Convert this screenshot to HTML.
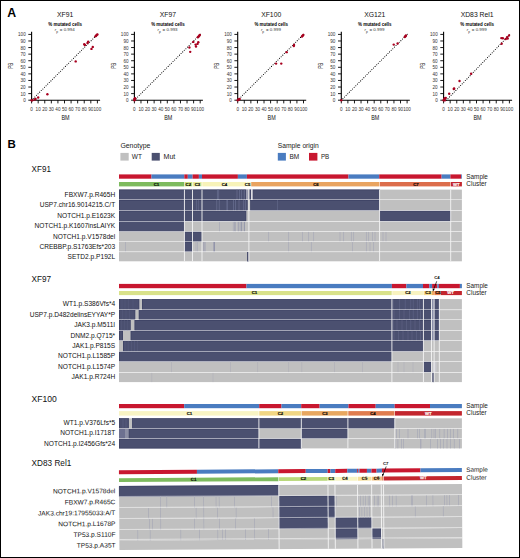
<!DOCTYPE html>
<html><head><meta charset="utf-8"><style>
html,body{margin:0;padding:0;background:#fff;}
body{width:520px;height:558px;overflow:hidden;position:relative;}
svg{position:absolute;left:0;top:0;font-family:"Liberation Sans", sans-serif;}
.frame{position:absolute;left:0;top:0;width:518px;height:556px;border:1px solid #000;}
</style></head><body>
<svg width="520" height="558" viewBox="0 0 520 558">
<text x="7.20" y="16.90" font-size="12.3" fill="#000" text-anchor="start" font-weight="bold">A</text>
<text x="65.10" y="17.30" font-size="6.8" fill="#111" text-anchor="middle" font-weight="normal">XF91</text>
<text x="65.10" y="25.70" font-size="4.5" fill="#000" text-anchor="middle" font-weight="bold" textLength="33.5" lengthAdjust="spacingAndGlyphs">% mutated cells</text>
<text x="54.80" y="30.60" font-size="4.4" fill="#333" text-anchor="start" font-weight="normal" font-style="italic">r</text>
<text x="56.20" y="33.20" font-size="3.3" fill="#333" text-anchor="start" font-weight="normal">p</text>
<text x="59.80" y="30.60" font-size="4.3" fill="#333" text-anchor="start" font-weight="normal" textLength="15" lengthAdjust="spacingAndGlyphs">= 0.994</text>
<line x1="31.60" y1="31.80" x2="31.60" y2="100.70" stroke="#000" stroke-width="1.1"/>
<line x1="31.10" y1="100.20" x2="100.10" y2="100.20" stroke="#000" stroke-width="1.1"/>
<line x1="28.30" y1="100.20" x2="31.60" y2="100.20" stroke="#000" stroke-width="0.9"/>
<text x="25.70" y="102.20" font-size="4.6" fill="#333" text-anchor="end" font-weight="normal">0</text>
<line x1="31.60" y1="100.20" x2="31.60" y2="103.40" stroke="#000" stroke-width="0.9"/>
<text x="31.60" y="110.60" font-size="4.6" fill="#333" text-anchor="middle" font-weight="normal">0</text>
<line x1="28.30" y1="93.62" x2="31.60" y2="93.62" stroke="#000" stroke-width="0.9"/>
<text x="25.70" y="95.62" font-size="4.6" fill="#333" text-anchor="end" font-weight="normal">10</text>
<line x1="38.18" y1="100.20" x2="38.18" y2="103.40" stroke="#000" stroke-width="0.9"/>
<text x="38.18" y="110.60" font-size="4.6" fill="#333" text-anchor="middle" font-weight="normal">10</text>
<line x1="28.30" y1="87.04" x2="31.60" y2="87.04" stroke="#000" stroke-width="0.9"/>
<text x="25.70" y="89.04" font-size="4.6" fill="#333" text-anchor="end" font-weight="normal">20</text>
<line x1="44.76" y1="100.20" x2="44.76" y2="103.40" stroke="#000" stroke-width="0.9"/>
<text x="44.76" y="110.60" font-size="4.6" fill="#333" text-anchor="middle" font-weight="normal">20</text>
<line x1="28.30" y1="80.46" x2="31.60" y2="80.46" stroke="#000" stroke-width="0.9"/>
<text x="25.70" y="82.46" font-size="4.6" fill="#333" text-anchor="end" font-weight="normal">30</text>
<line x1="51.34" y1="100.20" x2="51.34" y2="103.40" stroke="#000" stroke-width="0.9"/>
<text x="51.34" y="110.60" font-size="4.6" fill="#333" text-anchor="middle" font-weight="normal">30</text>
<line x1="28.30" y1="73.88" x2="31.60" y2="73.88" stroke="#000" stroke-width="0.9"/>
<text x="25.70" y="75.88" font-size="4.6" fill="#333" text-anchor="end" font-weight="normal">40</text>
<line x1="57.92" y1="100.20" x2="57.92" y2="103.40" stroke="#000" stroke-width="0.9"/>
<text x="57.92" y="110.60" font-size="4.6" fill="#333" text-anchor="middle" font-weight="normal">40</text>
<line x1="28.30" y1="67.30" x2="31.60" y2="67.30" stroke="#000" stroke-width="0.9"/>
<text x="25.70" y="69.30" font-size="4.6" fill="#333" text-anchor="end" font-weight="normal">50</text>
<line x1="64.50" y1="100.20" x2="64.50" y2="103.40" stroke="#000" stroke-width="0.9"/>
<text x="64.50" y="110.60" font-size="4.6" fill="#333" text-anchor="middle" font-weight="normal">50</text>
<line x1="28.30" y1="60.72" x2="31.60" y2="60.72" stroke="#000" stroke-width="0.9"/>
<text x="25.70" y="62.72" font-size="4.6" fill="#333" text-anchor="end" font-weight="normal">60</text>
<line x1="71.08" y1="100.20" x2="71.08" y2="103.40" stroke="#000" stroke-width="0.9"/>
<text x="71.08" y="110.60" font-size="4.6" fill="#333" text-anchor="middle" font-weight="normal">60</text>
<line x1="28.30" y1="54.14" x2="31.60" y2="54.14" stroke="#000" stroke-width="0.9"/>
<text x="25.70" y="56.14" font-size="4.6" fill="#333" text-anchor="end" font-weight="normal">70</text>
<line x1="77.66" y1="100.20" x2="77.66" y2="103.40" stroke="#000" stroke-width="0.9"/>
<text x="77.66" y="110.60" font-size="4.6" fill="#333" text-anchor="middle" font-weight="normal">70</text>
<line x1="28.30" y1="47.56" x2="31.60" y2="47.56" stroke="#000" stroke-width="0.9"/>
<text x="25.70" y="49.56" font-size="4.6" fill="#333" text-anchor="end" font-weight="normal">80</text>
<line x1="84.24" y1="100.20" x2="84.24" y2="103.40" stroke="#000" stroke-width="0.9"/>
<text x="84.24" y="110.60" font-size="4.6" fill="#333" text-anchor="middle" font-weight="normal">80</text>
<line x1="28.30" y1="40.98" x2="31.60" y2="40.98" stroke="#000" stroke-width="0.9"/>
<text x="25.70" y="42.98" font-size="4.6" fill="#333" text-anchor="end" font-weight="normal">90</text>
<line x1="90.82" y1="100.20" x2="90.82" y2="103.40" stroke="#000" stroke-width="0.9"/>
<text x="90.82" y="110.60" font-size="4.6" fill="#333" text-anchor="middle" font-weight="normal">90</text>
<line x1="28.30" y1="34.40" x2="31.60" y2="34.40" stroke="#000" stroke-width="0.9"/>
<text x="25.70" y="36.40" font-size="4.6" fill="#333" text-anchor="end" font-weight="normal">100</text>
<line x1="97.40" y1="100.20" x2="97.40" y2="103.40" stroke="#000" stroke-width="0.9"/>
<text x="97.40" y="110.60" font-size="4.6" fill="#333" text-anchor="middle" font-weight="normal">100</text>
<text x="65.50" y="120.20" font-size="6.6" fill="#111" text-anchor="middle" font-weight="normal" textLength="8.1" lengthAdjust="spacingAndGlyphs">BM</text>
<text x="0" y="0" font-size="6.6" fill="#111" text-anchor="middle" textLength="6.1" lengthAdjust="spacingAndGlyphs" transform="translate(10.50,65.80) rotate(-90)" dy="2.4">PB</text>
<path d="M31.60,100.20m-0.55,0a0.55,0.55 0 1,0 1.1,0a0.55,0.55 0 1,0 -1.1,0M33.21,98.59m-0.55,0a0.55,0.55 0 1,0 1.1,0a0.55,0.55 0 1,0 -1.1,0M34.82,96.98m-0.55,0a0.55,0.55 0 1,0 1.1,0a0.55,0.55 0 1,0 -1.1,0M36.43,95.37m-0.55,0a0.55,0.55 0 1,0 1.1,0a0.55,0.55 0 1,0 -1.1,0M38.04,93.76m-0.55,0a0.55,0.55 0 1,0 1.1,0a0.55,0.55 0 1,0 -1.1,0M39.65,92.15m-0.55,0a0.55,0.55 0 1,0 1.1,0a0.55,0.55 0 1,0 -1.1,0M41.26,90.54m-0.55,0a0.55,0.55 0 1,0 1.1,0a0.55,0.55 0 1,0 -1.1,0M42.87,88.93m-0.55,0a0.55,0.55 0 1,0 1.1,0a0.55,0.55 0 1,0 -1.1,0M44.48,87.32m-0.55,0a0.55,0.55 0 1,0 1.1,0a0.55,0.55 0 1,0 -1.1,0M46.09,85.71m-0.55,0a0.55,0.55 0 1,0 1.1,0a0.55,0.55 0 1,0 -1.1,0M47.70,84.10m-0.55,0a0.55,0.55 0 1,0 1.1,0a0.55,0.55 0 1,0 -1.1,0M49.31,82.49m-0.55,0a0.55,0.55 0 1,0 1.1,0a0.55,0.55 0 1,0 -1.1,0M50.92,80.88m-0.55,0a0.55,0.55 0 1,0 1.1,0a0.55,0.55 0 1,0 -1.1,0M52.53,79.27m-0.55,0a0.55,0.55 0 1,0 1.1,0a0.55,0.55 0 1,0 -1.1,0M54.14,77.66m-0.55,0a0.55,0.55 0 1,0 1.1,0a0.55,0.55 0 1,0 -1.1,0M55.75,76.05m-0.55,0a0.55,0.55 0 1,0 1.1,0a0.55,0.55 0 1,0 -1.1,0M57.36,74.44m-0.55,0a0.55,0.55 0 1,0 1.1,0a0.55,0.55 0 1,0 -1.1,0M58.97,72.83m-0.55,0a0.55,0.55 0 1,0 1.1,0a0.55,0.55 0 1,0 -1.1,0M60.58,71.22m-0.55,0a0.55,0.55 0 1,0 1.1,0a0.55,0.55 0 1,0 -1.1,0M62.19,69.61m-0.55,0a0.55,0.55 0 1,0 1.1,0a0.55,0.55 0 1,0 -1.1,0M63.80,68.00m-0.55,0a0.55,0.55 0 1,0 1.1,0a0.55,0.55 0 1,0 -1.1,0M65.40,66.40m-0.55,0a0.55,0.55 0 1,0 1.1,0a0.55,0.55 0 1,0 -1.1,0M67.01,64.79m-0.55,0a0.55,0.55 0 1,0 1.1,0a0.55,0.55 0 1,0 -1.1,0M68.62,63.18m-0.55,0a0.55,0.55 0 1,0 1.1,0a0.55,0.55 0 1,0 -1.1,0M70.23,61.57m-0.55,0a0.55,0.55 0 1,0 1.1,0a0.55,0.55 0 1,0 -1.1,0M71.84,59.96m-0.55,0a0.55,0.55 0 1,0 1.1,0a0.55,0.55 0 1,0 -1.1,0M73.45,58.35m-0.55,0a0.55,0.55 0 1,0 1.1,0a0.55,0.55 0 1,0 -1.1,0M75.06,56.74m-0.55,0a0.55,0.55 0 1,0 1.1,0a0.55,0.55 0 1,0 -1.1,0M76.67,55.13m-0.55,0a0.55,0.55 0 1,0 1.1,0a0.55,0.55 0 1,0 -1.1,0M78.28,53.52m-0.55,0a0.55,0.55 0 1,0 1.1,0a0.55,0.55 0 1,0 -1.1,0M79.89,51.91m-0.55,0a0.55,0.55 0 1,0 1.1,0a0.55,0.55 0 1,0 -1.1,0M81.50,50.30m-0.55,0a0.55,0.55 0 1,0 1.1,0a0.55,0.55 0 1,0 -1.1,0M83.11,48.69m-0.55,0a0.55,0.55 0 1,0 1.1,0a0.55,0.55 0 1,0 -1.1,0M84.72,47.08m-0.55,0a0.55,0.55 0 1,0 1.1,0a0.55,0.55 0 1,0 -1.1,0M86.33,45.47m-0.55,0a0.55,0.55 0 1,0 1.1,0a0.55,0.55 0 1,0 -1.1,0M87.94,43.86m-0.55,0a0.55,0.55 0 1,0 1.1,0a0.55,0.55 0 1,0 -1.1,0M89.55,42.25m-0.55,0a0.55,0.55 0 1,0 1.1,0a0.55,0.55 0 1,0 -1.1,0M91.16,40.64m-0.55,0a0.55,0.55 0 1,0 1.1,0a0.55,0.55 0 1,0 -1.1,0M92.77,39.03m-0.55,0a0.55,0.55 0 1,0 1.1,0a0.55,0.55 0 1,0 -1.1,0M94.38,37.42m-0.55,0a0.55,0.55 0 1,0 1.1,0a0.55,0.55 0 1,0 -1.1,0M95.99,35.81m-0.55,0a0.55,0.55 0 1,0 1.1,0a0.55,0.55 0 1,0 -1.1,0M97.60,34.20m-0.55,0a0.55,0.55 0 1,0 1.1,0a0.55,0.55 0 1,0 -1.1,0" fill="#000"/>
<circle cx="31.60" cy="100.20" r="1.2" fill="#a8001f"/>
<circle cx="32.26" cy="100.20" r="1.2" fill="#a8001f"/>
<circle cx="34.89" cy="99.54" r="1.2" fill="#a8001f"/>
<circle cx="35.55" cy="98.88" r="1.2" fill="#a8001f"/>
<circle cx="38.18" cy="97.57" r="1.2" fill="#a8001f"/>
<circle cx="47.39" cy="94.28" r="1.2" fill="#a8001f"/>
<circle cx="75.69" cy="61.38" r="1.2" fill="#a8001f"/>
<circle cx="84.24" cy="44.27" r="1.2" fill="#a8001f"/>
<circle cx="84.90" cy="44.93" r="1.2" fill="#a8001f"/>
<circle cx="87.53" cy="42.95" r="1.2" fill="#a8001f"/>
<circle cx="88.19" cy="41.64" r="1.2" fill="#a8001f"/>
<circle cx="91.48" cy="48.88" r="1.2" fill="#a8001f"/>
<circle cx="92.79" cy="46.90" r="1.2" fill="#a8001f"/>
<circle cx="95.43" cy="36.37" r="1.2" fill="#a8001f"/>
<circle cx="96.08" cy="35.72" r="1.2" fill="#a8001f"/>
<circle cx="96.74" cy="35.06" r="1.2" fill="#a8001f"/>
<circle cx="97.40" cy="34.40" r="1.2" fill="#a8001f"/>
<text x="167.90" y="17.30" font-size="6.8" fill="#111" text-anchor="middle" font-weight="normal">XF97</text>
<text x="167.90" y="25.70" font-size="4.5" fill="#000" text-anchor="middle" font-weight="bold" textLength="33.5" lengthAdjust="spacingAndGlyphs">% mutated cells</text>
<text x="157.60" y="30.60" font-size="4.4" fill="#333" text-anchor="start" font-weight="normal" font-style="italic">r</text>
<text x="159.00" y="33.20" font-size="3.3" fill="#333" text-anchor="start" font-weight="normal">p</text>
<text x="162.60" y="30.60" font-size="4.3" fill="#333" text-anchor="start" font-weight="normal" textLength="15" lengthAdjust="spacingAndGlyphs">= 0.993</text>
<line x1="134.40" y1="31.80" x2="134.40" y2="100.70" stroke="#000" stroke-width="1.1"/>
<line x1="133.90" y1="100.20" x2="202.90" y2="100.20" stroke="#000" stroke-width="1.1"/>
<line x1="131.10" y1="100.20" x2="134.40" y2="100.20" stroke="#000" stroke-width="0.9"/>
<text x="128.50" y="102.20" font-size="4.6" fill="#333" text-anchor="end" font-weight="normal">0</text>
<line x1="134.40" y1="100.20" x2="134.40" y2="103.40" stroke="#000" stroke-width="0.9"/>
<text x="134.40" y="110.60" font-size="4.6" fill="#333" text-anchor="middle" font-weight="normal">0</text>
<line x1="131.10" y1="93.62" x2="134.40" y2="93.62" stroke="#000" stroke-width="0.9"/>
<text x="128.50" y="95.62" font-size="4.6" fill="#333" text-anchor="end" font-weight="normal">10</text>
<line x1="140.98" y1="100.20" x2="140.98" y2="103.40" stroke="#000" stroke-width="0.9"/>
<text x="140.98" y="110.60" font-size="4.6" fill="#333" text-anchor="middle" font-weight="normal">10</text>
<line x1="131.10" y1="87.04" x2="134.40" y2="87.04" stroke="#000" stroke-width="0.9"/>
<text x="128.50" y="89.04" font-size="4.6" fill="#333" text-anchor="end" font-weight="normal">20</text>
<line x1="147.56" y1="100.20" x2="147.56" y2="103.40" stroke="#000" stroke-width="0.9"/>
<text x="147.56" y="110.60" font-size="4.6" fill="#333" text-anchor="middle" font-weight="normal">20</text>
<line x1="131.10" y1="80.46" x2="134.40" y2="80.46" stroke="#000" stroke-width="0.9"/>
<text x="128.50" y="82.46" font-size="4.6" fill="#333" text-anchor="end" font-weight="normal">30</text>
<line x1="154.14" y1="100.20" x2="154.14" y2="103.40" stroke="#000" stroke-width="0.9"/>
<text x="154.14" y="110.60" font-size="4.6" fill="#333" text-anchor="middle" font-weight="normal">30</text>
<line x1="131.10" y1="73.88" x2="134.40" y2="73.88" stroke="#000" stroke-width="0.9"/>
<text x="128.50" y="75.88" font-size="4.6" fill="#333" text-anchor="end" font-weight="normal">40</text>
<line x1="160.72" y1="100.20" x2="160.72" y2="103.40" stroke="#000" stroke-width="0.9"/>
<text x="160.72" y="110.60" font-size="4.6" fill="#333" text-anchor="middle" font-weight="normal">40</text>
<line x1="131.10" y1="67.30" x2="134.40" y2="67.30" stroke="#000" stroke-width="0.9"/>
<text x="128.50" y="69.30" font-size="4.6" fill="#333" text-anchor="end" font-weight="normal">50</text>
<line x1="167.30" y1="100.20" x2="167.30" y2="103.40" stroke="#000" stroke-width="0.9"/>
<text x="167.30" y="110.60" font-size="4.6" fill="#333" text-anchor="middle" font-weight="normal">50</text>
<line x1="131.10" y1="60.72" x2="134.40" y2="60.72" stroke="#000" stroke-width="0.9"/>
<text x="128.50" y="62.72" font-size="4.6" fill="#333" text-anchor="end" font-weight="normal">60</text>
<line x1="173.88" y1="100.20" x2="173.88" y2="103.40" stroke="#000" stroke-width="0.9"/>
<text x="173.88" y="110.60" font-size="4.6" fill="#333" text-anchor="middle" font-weight="normal">60</text>
<line x1="131.10" y1="54.14" x2="134.40" y2="54.14" stroke="#000" stroke-width="0.9"/>
<text x="128.50" y="56.14" font-size="4.6" fill="#333" text-anchor="end" font-weight="normal">70</text>
<line x1="180.46" y1="100.20" x2="180.46" y2="103.40" stroke="#000" stroke-width="0.9"/>
<text x="180.46" y="110.60" font-size="4.6" fill="#333" text-anchor="middle" font-weight="normal">70</text>
<line x1="131.10" y1="47.56" x2="134.40" y2="47.56" stroke="#000" stroke-width="0.9"/>
<text x="128.50" y="49.56" font-size="4.6" fill="#333" text-anchor="end" font-weight="normal">80</text>
<line x1="187.04" y1="100.20" x2="187.04" y2="103.40" stroke="#000" stroke-width="0.9"/>
<text x="187.04" y="110.60" font-size="4.6" fill="#333" text-anchor="middle" font-weight="normal">80</text>
<line x1="131.10" y1="40.98" x2="134.40" y2="40.98" stroke="#000" stroke-width="0.9"/>
<text x="128.50" y="42.98" font-size="4.6" fill="#333" text-anchor="end" font-weight="normal">90</text>
<line x1="193.62" y1="100.20" x2="193.62" y2="103.40" stroke="#000" stroke-width="0.9"/>
<text x="193.62" y="110.60" font-size="4.6" fill="#333" text-anchor="middle" font-weight="normal">90</text>
<line x1="131.10" y1="34.40" x2="134.40" y2="34.40" stroke="#000" stroke-width="0.9"/>
<text x="128.50" y="36.40" font-size="4.6" fill="#333" text-anchor="end" font-weight="normal">100</text>
<line x1="200.20" y1="100.20" x2="200.20" y2="103.40" stroke="#000" stroke-width="0.9"/>
<text x="200.20" y="110.60" font-size="4.6" fill="#333" text-anchor="middle" font-weight="normal">100</text>
<text x="168.30" y="120.20" font-size="6.6" fill="#111" text-anchor="middle" font-weight="normal" textLength="8.1" lengthAdjust="spacingAndGlyphs">BM</text>
<text x="0" y="0" font-size="6.6" fill="#111" text-anchor="middle" textLength="6.1" lengthAdjust="spacingAndGlyphs" transform="translate(113.30,65.80) rotate(-90)" dy="2.4">PB</text>
<path d="M134.40,100.20m-0.55,0a0.55,0.55 0 1,0 1.1,0a0.55,0.55 0 1,0 -1.1,0M136.01,98.59m-0.55,0a0.55,0.55 0 1,0 1.1,0a0.55,0.55 0 1,0 -1.1,0M137.62,96.98m-0.55,0a0.55,0.55 0 1,0 1.1,0a0.55,0.55 0 1,0 -1.1,0M139.23,95.37m-0.55,0a0.55,0.55 0 1,0 1.1,0a0.55,0.55 0 1,0 -1.1,0M140.84,93.76m-0.55,0a0.55,0.55 0 1,0 1.1,0a0.55,0.55 0 1,0 -1.1,0M142.45,92.15m-0.55,0a0.55,0.55 0 1,0 1.1,0a0.55,0.55 0 1,0 -1.1,0M144.06,90.54m-0.55,0a0.55,0.55 0 1,0 1.1,0a0.55,0.55 0 1,0 -1.1,0M145.67,88.93m-0.55,0a0.55,0.55 0 1,0 1.1,0a0.55,0.55 0 1,0 -1.1,0M147.28,87.32m-0.55,0a0.55,0.55 0 1,0 1.1,0a0.55,0.55 0 1,0 -1.1,0M148.89,85.71m-0.55,0a0.55,0.55 0 1,0 1.1,0a0.55,0.55 0 1,0 -1.1,0M150.50,84.10m-0.55,0a0.55,0.55 0 1,0 1.1,0a0.55,0.55 0 1,0 -1.1,0M152.11,82.49m-0.55,0a0.55,0.55 0 1,0 1.1,0a0.55,0.55 0 1,0 -1.1,0M153.72,80.88m-0.55,0a0.55,0.55 0 1,0 1.1,0a0.55,0.55 0 1,0 -1.1,0M155.33,79.27m-0.55,0a0.55,0.55 0 1,0 1.1,0a0.55,0.55 0 1,0 -1.1,0M156.94,77.66m-0.55,0a0.55,0.55 0 1,0 1.1,0a0.55,0.55 0 1,0 -1.1,0M158.55,76.05m-0.55,0a0.55,0.55 0 1,0 1.1,0a0.55,0.55 0 1,0 -1.1,0M160.16,74.44m-0.55,0a0.55,0.55 0 1,0 1.1,0a0.55,0.55 0 1,0 -1.1,0M161.77,72.83m-0.55,0a0.55,0.55 0 1,0 1.1,0a0.55,0.55 0 1,0 -1.1,0M163.38,71.22m-0.55,0a0.55,0.55 0 1,0 1.1,0a0.55,0.55 0 1,0 -1.1,0M164.99,69.61m-0.55,0a0.55,0.55 0 1,0 1.1,0a0.55,0.55 0 1,0 -1.1,0M166.60,68.00m-0.55,0a0.55,0.55 0 1,0 1.1,0a0.55,0.55 0 1,0 -1.1,0M168.20,66.40m-0.55,0a0.55,0.55 0 1,0 1.1,0a0.55,0.55 0 1,0 -1.1,0M169.81,64.79m-0.55,0a0.55,0.55 0 1,0 1.1,0a0.55,0.55 0 1,0 -1.1,0M171.42,63.18m-0.55,0a0.55,0.55 0 1,0 1.1,0a0.55,0.55 0 1,0 -1.1,0M173.03,61.57m-0.55,0a0.55,0.55 0 1,0 1.1,0a0.55,0.55 0 1,0 -1.1,0M174.64,59.96m-0.55,0a0.55,0.55 0 1,0 1.1,0a0.55,0.55 0 1,0 -1.1,0M176.25,58.35m-0.55,0a0.55,0.55 0 1,0 1.1,0a0.55,0.55 0 1,0 -1.1,0M177.86,56.74m-0.55,0a0.55,0.55 0 1,0 1.1,0a0.55,0.55 0 1,0 -1.1,0M179.47,55.13m-0.55,0a0.55,0.55 0 1,0 1.1,0a0.55,0.55 0 1,0 -1.1,0M181.08,53.52m-0.55,0a0.55,0.55 0 1,0 1.1,0a0.55,0.55 0 1,0 -1.1,0M182.69,51.91m-0.55,0a0.55,0.55 0 1,0 1.1,0a0.55,0.55 0 1,0 -1.1,0M184.30,50.30m-0.55,0a0.55,0.55 0 1,0 1.1,0a0.55,0.55 0 1,0 -1.1,0M185.91,48.69m-0.55,0a0.55,0.55 0 1,0 1.1,0a0.55,0.55 0 1,0 -1.1,0M187.52,47.08m-0.55,0a0.55,0.55 0 1,0 1.1,0a0.55,0.55 0 1,0 -1.1,0M189.13,45.47m-0.55,0a0.55,0.55 0 1,0 1.1,0a0.55,0.55 0 1,0 -1.1,0M190.74,43.86m-0.55,0a0.55,0.55 0 1,0 1.1,0a0.55,0.55 0 1,0 -1.1,0M192.35,42.25m-0.55,0a0.55,0.55 0 1,0 1.1,0a0.55,0.55 0 1,0 -1.1,0M193.96,40.64m-0.55,0a0.55,0.55 0 1,0 1.1,0a0.55,0.55 0 1,0 -1.1,0M195.57,39.03m-0.55,0a0.55,0.55 0 1,0 1.1,0a0.55,0.55 0 1,0 -1.1,0M197.18,37.42m-0.55,0a0.55,0.55 0 1,0 1.1,0a0.55,0.55 0 1,0 -1.1,0M198.79,35.81m-0.55,0a0.55,0.55 0 1,0 1.1,0a0.55,0.55 0 1,0 -1.1,0M200.40,34.20m-0.55,0a0.55,0.55 0 1,0 1.1,0a0.55,0.55 0 1,0 -1.1,0" fill="#000"/>
<circle cx="134.40" cy="100.20" r="1.2" fill="#a8001f"/>
<circle cx="135.06" cy="99.54" r="1.2" fill="#a8001f"/>
<circle cx="134.40" cy="98.88" r="1.2" fill="#a8001f"/>
<circle cx="135.06" cy="98.23" r="1.2" fill="#a8001f"/>
<circle cx="199.81" cy="35.06" r="1.2" fill="#a8001f"/>
<circle cx="199.21" cy="35.72" r="1.2" fill="#a8001f"/>
<circle cx="198.62" cy="36.57" r="1.2" fill="#a8001f"/>
<circle cx="197.83" cy="37.30" r="1.2" fill="#a8001f"/>
<circle cx="193.29" cy="41.90" r="1.2" fill="#a8001f"/>
<circle cx="198.29" cy="42.30" r="1.2" fill="#a8001f"/>
<circle cx="197.50" cy="43.88" r="1.2" fill="#a8001f"/>
<circle cx="195.59" cy="44.60" r="1.2" fill="#a8001f"/>
<circle cx="195.99" cy="46.57" r="1.2" fill="#a8001f"/>
<circle cx="189.41" cy="47.43" r="1.2" fill="#a8001f"/>
<circle cx="190.20" cy="51.84" r="1.2" fill="#a8001f"/>
<text x="271.20" y="17.30" font-size="6.8" fill="#111" text-anchor="middle" font-weight="normal">XF100</text>
<text x="271.20" y="25.70" font-size="4.5" fill="#000" text-anchor="middle" font-weight="bold" textLength="33.5" lengthAdjust="spacingAndGlyphs">% mutated cells</text>
<text x="260.90" y="30.60" font-size="4.4" fill="#333" text-anchor="start" font-weight="normal" font-style="italic">r</text>
<text x="262.30" y="33.20" font-size="3.3" fill="#333" text-anchor="start" font-weight="normal">p</text>
<text x="265.90" y="30.60" font-size="4.3" fill="#333" text-anchor="start" font-weight="normal" textLength="15" lengthAdjust="spacingAndGlyphs">= 0.999</text>
<line x1="237.70" y1="31.80" x2="237.70" y2="100.70" stroke="#000" stroke-width="1.1"/>
<line x1="237.20" y1="100.20" x2="306.20" y2="100.20" stroke="#000" stroke-width="1.1"/>
<line x1="234.40" y1="100.20" x2="237.70" y2="100.20" stroke="#000" stroke-width="0.9"/>
<text x="231.80" y="102.20" font-size="4.6" fill="#333" text-anchor="end" font-weight="normal">0</text>
<line x1="237.70" y1="100.20" x2="237.70" y2="103.40" stroke="#000" stroke-width="0.9"/>
<text x="237.70" y="110.60" font-size="4.6" fill="#333" text-anchor="middle" font-weight="normal">0</text>
<line x1="234.40" y1="93.62" x2="237.70" y2="93.62" stroke="#000" stroke-width="0.9"/>
<text x="231.80" y="95.62" font-size="4.6" fill="#333" text-anchor="end" font-weight="normal">10</text>
<line x1="244.28" y1="100.20" x2="244.28" y2="103.40" stroke="#000" stroke-width="0.9"/>
<text x="244.28" y="110.60" font-size="4.6" fill="#333" text-anchor="middle" font-weight="normal">10</text>
<line x1="234.40" y1="87.04" x2="237.70" y2="87.04" stroke="#000" stroke-width="0.9"/>
<text x="231.80" y="89.04" font-size="4.6" fill="#333" text-anchor="end" font-weight="normal">20</text>
<line x1="250.86" y1="100.20" x2="250.86" y2="103.40" stroke="#000" stroke-width="0.9"/>
<text x="250.86" y="110.60" font-size="4.6" fill="#333" text-anchor="middle" font-weight="normal">20</text>
<line x1="234.40" y1="80.46" x2="237.70" y2="80.46" stroke="#000" stroke-width="0.9"/>
<text x="231.80" y="82.46" font-size="4.6" fill="#333" text-anchor="end" font-weight="normal">30</text>
<line x1="257.44" y1="100.20" x2="257.44" y2="103.40" stroke="#000" stroke-width="0.9"/>
<text x="257.44" y="110.60" font-size="4.6" fill="#333" text-anchor="middle" font-weight="normal">30</text>
<line x1="234.40" y1="73.88" x2="237.70" y2="73.88" stroke="#000" stroke-width="0.9"/>
<text x="231.80" y="75.88" font-size="4.6" fill="#333" text-anchor="end" font-weight="normal">40</text>
<line x1="264.02" y1="100.20" x2="264.02" y2="103.40" stroke="#000" stroke-width="0.9"/>
<text x="264.02" y="110.60" font-size="4.6" fill="#333" text-anchor="middle" font-weight="normal">40</text>
<line x1="234.40" y1="67.30" x2="237.70" y2="67.30" stroke="#000" stroke-width="0.9"/>
<text x="231.80" y="69.30" font-size="4.6" fill="#333" text-anchor="end" font-weight="normal">50</text>
<line x1="270.60" y1="100.20" x2="270.60" y2="103.40" stroke="#000" stroke-width="0.9"/>
<text x="270.60" y="110.60" font-size="4.6" fill="#333" text-anchor="middle" font-weight="normal">50</text>
<line x1="234.40" y1="60.72" x2="237.70" y2="60.72" stroke="#000" stroke-width="0.9"/>
<text x="231.80" y="62.72" font-size="4.6" fill="#333" text-anchor="end" font-weight="normal">60</text>
<line x1="277.18" y1="100.20" x2="277.18" y2="103.40" stroke="#000" stroke-width="0.9"/>
<text x="277.18" y="110.60" font-size="4.6" fill="#333" text-anchor="middle" font-weight="normal">60</text>
<line x1="234.40" y1="54.14" x2="237.70" y2="54.14" stroke="#000" stroke-width="0.9"/>
<text x="231.80" y="56.14" font-size="4.6" fill="#333" text-anchor="end" font-weight="normal">70</text>
<line x1="283.76" y1="100.20" x2="283.76" y2="103.40" stroke="#000" stroke-width="0.9"/>
<text x="283.76" y="110.60" font-size="4.6" fill="#333" text-anchor="middle" font-weight="normal">70</text>
<line x1="234.40" y1="47.56" x2="237.70" y2="47.56" stroke="#000" stroke-width="0.9"/>
<text x="231.80" y="49.56" font-size="4.6" fill="#333" text-anchor="end" font-weight="normal">80</text>
<line x1="290.34" y1="100.20" x2="290.34" y2="103.40" stroke="#000" stroke-width="0.9"/>
<text x="290.34" y="110.60" font-size="4.6" fill="#333" text-anchor="middle" font-weight="normal">80</text>
<line x1="234.40" y1="40.98" x2="237.70" y2="40.98" stroke="#000" stroke-width="0.9"/>
<text x="231.80" y="42.98" font-size="4.6" fill="#333" text-anchor="end" font-weight="normal">90</text>
<line x1="296.92" y1="100.20" x2="296.92" y2="103.40" stroke="#000" stroke-width="0.9"/>
<text x="296.92" y="110.60" font-size="4.6" fill="#333" text-anchor="middle" font-weight="normal">90</text>
<line x1="234.40" y1="34.40" x2="237.70" y2="34.40" stroke="#000" stroke-width="0.9"/>
<text x="231.80" y="36.40" font-size="4.6" fill="#333" text-anchor="end" font-weight="normal">100</text>
<line x1="303.50" y1="100.20" x2="303.50" y2="103.40" stroke="#000" stroke-width="0.9"/>
<text x="303.50" y="110.60" font-size="4.6" fill="#333" text-anchor="middle" font-weight="normal">100</text>
<text x="271.60" y="120.20" font-size="6.6" fill="#111" text-anchor="middle" font-weight="normal" textLength="8.1" lengthAdjust="spacingAndGlyphs">BM</text>
<text x="0" y="0" font-size="6.6" fill="#111" text-anchor="middle" textLength="6.1" lengthAdjust="spacingAndGlyphs" transform="translate(216.60,65.80) rotate(-90)" dy="2.4">PB</text>
<path d="M237.70,100.20m-0.55,0a0.55,0.55 0 1,0 1.1,0a0.55,0.55 0 1,0 -1.1,0M239.31,98.59m-0.55,0a0.55,0.55 0 1,0 1.1,0a0.55,0.55 0 1,0 -1.1,0M240.92,96.98m-0.55,0a0.55,0.55 0 1,0 1.1,0a0.55,0.55 0 1,0 -1.1,0M242.53,95.37m-0.55,0a0.55,0.55 0 1,0 1.1,0a0.55,0.55 0 1,0 -1.1,0M244.14,93.76m-0.55,0a0.55,0.55 0 1,0 1.1,0a0.55,0.55 0 1,0 -1.1,0M245.75,92.15m-0.55,0a0.55,0.55 0 1,0 1.1,0a0.55,0.55 0 1,0 -1.1,0M247.36,90.54m-0.55,0a0.55,0.55 0 1,0 1.1,0a0.55,0.55 0 1,0 -1.1,0M248.97,88.93m-0.55,0a0.55,0.55 0 1,0 1.1,0a0.55,0.55 0 1,0 -1.1,0M250.58,87.32m-0.55,0a0.55,0.55 0 1,0 1.1,0a0.55,0.55 0 1,0 -1.1,0M252.19,85.71m-0.55,0a0.55,0.55 0 1,0 1.1,0a0.55,0.55 0 1,0 -1.1,0M253.80,84.10m-0.55,0a0.55,0.55 0 1,0 1.1,0a0.55,0.55 0 1,0 -1.1,0M255.41,82.49m-0.55,0a0.55,0.55 0 1,0 1.1,0a0.55,0.55 0 1,0 -1.1,0M257.02,80.88m-0.55,0a0.55,0.55 0 1,0 1.1,0a0.55,0.55 0 1,0 -1.1,0M258.63,79.27m-0.55,0a0.55,0.55 0 1,0 1.1,0a0.55,0.55 0 1,0 -1.1,0M260.24,77.66m-0.55,0a0.55,0.55 0 1,0 1.1,0a0.55,0.55 0 1,0 -1.1,0M261.85,76.05m-0.55,0a0.55,0.55 0 1,0 1.1,0a0.55,0.55 0 1,0 -1.1,0M263.46,74.44m-0.55,0a0.55,0.55 0 1,0 1.1,0a0.55,0.55 0 1,0 -1.1,0M265.07,72.83m-0.55,0a0.55,0.55 0 1,0 1.1,0a0.55,0.55 0 1,0 -1.1,0M266.68,71.22m-0.55,0a0.55,0.55 0 1,0 1.1,0a0.55,0.55 0 1,0 -1.1,0M268.29,69.61m-0.55,0a0.55,0.55 0 1,0 1.1,0a0.55,0.55 0 1,0 -1.1,0M269.90,68.00m-0.55,0a0.55,0.55 0 1,0 1.1,0a0.55,0.55 0 1,0 -1.1,0M271.50,66.40m-0.55,0a0.55,0.55 0 1,0 1.1,0a0.55,0.55 0 1,0 -1.1,0M273.11,64.79m-0.55,0a0.55,0.55 0 1,0 1.1,0a0.55,0.55 0 1,0 -1.1,0M274.72,63.18m-0.55,0a0.55,0.55 0 1,0 1.1,0a0.55,0.55 0 1,0 -1.1,0M276.33,61.57m-0.55,0a0.55,0.55 0 1,0 1.1,0a0.55,0.55 0 1,0 -1.1,0M277.94,59.96m-0.55,0a0.55,0.55 0 1,0 1.1,0a0.55,0.55 0 1,0 -1.1,0M279.55,58.35m-0.55,0a0.55,0.55 0 1,0 1.1,0a0.55,0.55 0 1,0 -1.1,0M281.16,56.74m-0.55,0a0.55,0.55 0 1,0 1.1,0a0.55,0.55 0 1,0 -1.1,0M282.77,55.13m-0.55,0a0.55,0.55 0 1,0 1.1,0a0.55,0.55 0 1,0 -1.1,0M284.38,53.52m-0.55,0a0.55,0.55 0 1,0 1.1,0a0.55,0.55 0 1,0 -1.1,0M285.99,51.91m-0.55,0a0.55,0.55 0 1,0 1.1,0a0.55,0.55 0 1,0 -1.1,0M287.60,50.30m-0.55,0a0.55,0.55 0 1,0 1.1,0a0.55,0.55 0 1,0 -1.1,0M289.21,48.69m-0.55,0a0.55,0.55 0 1,0 1.1,0a0.55,0.55 0 1,0 -1.1,0M290.82,47.08m-0.55,0a0.55,0.55 0 1,0 1.1,0a0.55,0.55 0 1,0 -1.1,0M292.43,45.47m-0.55,0a0.55,0.55 0 1,0 1.1,0a0.55,0.55 0 1,0 -1.1,0M294.04,43.86m-0.55,0a0.55,0.55 0 1,0 1.1,0a0.55,0.55 0 1,0 -1.1,0M295.65,42.25m-0.55,0a0.55,0.55 0 1,0 1.1,0a0.55,0.55 0 1,0 -1.1,0M297.26,40.64m-0.55,0a0.55,0.55 0 1,0 1.1,0a0.55,0.55 0 1,0 -1.1,0M298.87,39.03m-0.55,0a0.55,0.55 0 1,0 1.1,0a0.55,0.55 0 1,0 -1.1,0M300.48,37.42m-0.55,0a0.55,0.55 0 1,0 1.1,0a0.55,0.55 0 1,0 -1.1,0M302.09,35.81m-0.55,0a0.55,0.55 0 1,0 1.1,0a0.55,0.55 0 1,0 -1.1,0M303.70,34.20m-0.55,0a0.55,0.55 0 1,0 1.1,0a0.55,0.55 0 1,0 -1.1,0" fill="#000"/>
<circle cx="237.70" cy="100.20" r="1.2" fill="#a8001f"/>
<circle cx="238.36" cy="99.54" r="1.2" fill="#a8001f"/>
<circle cx="239.02" cy="99.54" r="1.2" fill="#a8001f"/>
<circle cx="239.67" cy="98.88" r="1.2" fill="#a8001f"/>
<circle cx="303.30" cy="34.93" r="1.2" fill="#a8001f"/>
<circle cx="302.64" cy="35.72" r="1.2" fill="#a8001f"/>
<circle cx="301.99" cy="36.51" r="1.2" fill="#a8001f"/>
<circle cx="294.02" cy="45.06" r="1.2" fill="#a8001f"/>
<circle cx="293.83" cy="46.05" r="1.2" fill="#a8001f"/>
<circle cx="286.66" cy="52.17" r="1.2" fill="#a8001f"/>
<circle cx="276.06" cy="63.62" r="1.2" fill="#a8001f"/>
<circle cx="281.26" cy="63.62" r="1.2" fill="#a8001f"/>
<text x="374.80" y="17.30" font-size="6.8" fill="#111" text-anchor="middle" font-weight="normal">XG121</text>
<text x="374.80" y="25.70" font-size="4.5" fill="#000" text-anchor="middle" font-weight="bold" textLength="33.5" lengthAdjust="spacingAndGlyphs">% mutated cells</text>
<text x="364.50" y="30.60" font-size="4.4" fill="#333" text-anchor="start" font-weight="normal" font-style="italic">r</text>
<text x="365.90" y="33.20" font-size="3.3" fill="#333" text-anchor="start" font-weight="normal">p</text>
<text x="369.50" y="30.60" font-size="4.3" fill="#333" text-anchor="start" font-weight="normal" textLength="15" lengthAdjust="spacingAndGlyphs">= 0.999</text>
<line x1="341.30" y1="31.80" x2="341.30" y2="100.70" stroke="#000" stroke-width="1.1"/>
<line x1="340.80" y1="100.20" x2="409.80" y2="100.20" stroke="#000" stroke-width="1.1"/>
<line x1="338.00" y1="100.20" x2="341.30" y2="100.20" stroke="#000" stroke-width="0.9"/>
<text x="335.40" y="102.20" font-size="4.6" fill="#333" text-anchor="end" font-weight="normal">0</text>
<line x1="341.30" y1="100.20" x2="341.30" y2="103.40" stroke="#000" stroke-width="0.9"/>
<text x="341.30" y="110.60" font-size="4.6" fill="#333" text-anchor="middle" font-weight="normal">0</text>
<line x1="338.00" y1="93.62" x2="341.30" y2="93.62" stroke="#000" stroke-width="0.9"/>
<text x="335.40" y="95.62" font-size="4.6" fill="#333" text-anchor="end" font-weight="normal">10</text>
<line x1="347.88" y1="100.20" x2="347.88" y2="103.40" stroke="#000" stroke-width="0.9"/>
<text x="347.88" y="110.60" font-size="4.6" fill="#333" text-anchor="middle" font-weight="normal">10</text>
<line x1="338.00" y1="87.04" x2="341.30" y2="87.04" stroke="#000" stroke-width="0.9"/>
<text x="335.40" y="89.04" font-size="4.6" fill="#333" text-anchor="end" font-weight="normal">20</text>
<line x1="354.46" y1="100.20" x2="354.46" y2="103.40" stroke="#000" stroke-width="0.9"/>
<text x="354.46" y="110.60" font-size="4.6" fill="#333" text-anchor="middle" font-weight="normal">20</text>
<line x1="338.00" y1="80.46" x2="341.30" y2="80.46" stroke="#000" stroke-width="0.9"/>
<text x="335.40" y="82.46" font-size="4.6" fill="#333" text-anchor="end" font-weight="normal">30</text>
<line x1="361.04" y1="100.20" x2="361.04" y2="103.40" stroke="#000" stroke-width="0.9"/>
<text x="361.04" y="110.60" font-size="4.6" fill="#333" text-anchor="middle" font-weight="normal">30</text>
<line x1="338.00" y1="73.88" x2="341.30" y2="73.88" stroke="#000" stroke-width="0.9"/>
<text x="335.40" y="75.88" font-size="4.6" fill="#333" text-anchor="end" font-weight="normal">40</text>
<line x1="367.62" y1="100.20" x2="367.62" y2="103.40" stroke="#000" stroke-width="0.9"/>
<text x="367.62" y="110.60" font-size="4.6" fill="#333" text-anchor="middle" font-weight="normal">40</text>
<line x1="338.00" y1="67.30" x2="341.30" y2="67.30" stroke="#000" stroke-width="0.9"/>
<text x="335.40" y="69.30" font-size="4.6" fill="#333" text-anchor="end" font-weight="normal">50</text>
<line x1="374.20" y1="100.20" x2="374.20" y2="103.40" stroke="#000" stroke-width="0.9"/>
<text x="374.20" y="110.60" font-size="4.6" fill="#333" text-anchor="middle" font-weight="normal">50</text>
<line x1="338.00" y1="60.72" x2="341.30" y2="60.72" stroke="#000" stroke-width="0.9"/>
<text x="335.40" y="62.72" font-size="4.6" fill="#333" text-anchor="end" font-weight="normal">60</text>
<line x1="380.78" y1="100.20" x2="380.78" y2="103.40" stroke="#000" stroke-width="0.9"/>
<text x="380.78" y="110.60" font-size="4.6" fill="#333" text-anchor="middle" font-weight="normal">60</text>
<line x1="338.00" y1="54.14" x2="341.30" y2="54.14" stroke="#000" stroke-width="0.9"/>
<text x="335.40" y="56.14" font-size="4.6" fill="#333" text-anchor="end" font-weight="normal">70</text>
<line x1="387.36" y1="100.20" x2="387.36" y2="103.40" stroke="#000" stroke-width="0.9"/>
<text x="387.36" y="110.60" font-size="4.6" fill="#333" text-anchor="middle" font-weight="normal">70</text>
<line x1="338.00" y1="47.56" x2="341.30" y2="47.56" stroke="#000" stroke-width="0.9"/>
<text x="335.40" y="49.56" font-size="4.6" fill="#333" text-anchor="end" font-weight="normal">80</text>
<line x1="393.94" y1="100.20" x2="393.94" y2="103.40" stroke="#000" stroke-width="0.9"/>
<text x="393.94" y="110.60" font-size="4.6" fill="#333" text-anchor="middle" font-weight="normal">80</text>
<line x1="338.00" y1="40.98" x2="341.30" y2="40.98" stroke="#000" stroke-width="0.9"/>
<text x="335.40" y="42.98" font-size="4.6" fill="#333" text-anchor="end" font-weight="normal">90</text>
<line x1="400.52" y1="100.20" x2="400.52" y2="103.40" stroke="#000" stroke-width="0.9"/>
<text x="400.52" y="110.60" font-size="4.6" fill="#333" text-anchor="middle" font-weight="normal">90</text>
<line x1="338.00" y1="34.40" x2="341.30" y2="34.40" stroke="#000" stroke-width="0.9"/>
<text x="335.40" y="36.40" font-size="4.6" fill="#333" text-anchor="end" font-weight="normal">100</text>
<line x1="407.10" y1="100.20" x2="407.10" y2="103.40" stroke="#000" stroke-width="0.9"/>
<text x="407.10" y="110.60" font-size="4.6" fill="#333" text-anchor="middle" font-weight="normal">100</text>
<text x="375.20" y="120.20" font-size="6.6" fill="#111" text-anchor="middle" font-weight="normal" textLength="8.1" lengthAdjust="spacingAndGlyphs">BM</text>
<text x="0" y="0" font-size="6.6" fill="#111" text-anchor="middle" textLength="6.1" lengthAdjust="spacingAndGlyphs" transform="translate(320.20,65.80) rotate(-90)" dy="2.4">PB</text>
<path d="M341.30,100.20m-0.55,0a0.55,0.55 0 1,0 1.1,0a0.55,0.55 0 1,0 -1.1,0M342.91,98.59m-0.55,0a0.55,0.55 0 1,0 1.1,0a0.55,0.55 0 1,0 -1.1,0M344.52,96.98m-0.55,0a0.55,0.55 0 1,0 1.1,0a0.55,0.55 0 1,0 -1.1,0M346.13,95.37m-0.55,0a0.55,0.55 0 1,0 1.1,0a0.55,0.55 0 1,0 -1.1,0M347.74,93.76m-0.55,0a0.55,0.55 0 1,0 1.1,0a0.55,0.55 0 1,0 -1.1,0M349.35,92.15m-0.55,0a0.55,0.55 0 1,0 1.1,0a0.55,0.55 0 1,0 -1.1,0M350.96,90.54m-0.55,0a0.55,0.55 0 1,0 1.1,0a0.55,0.55 0 1,0 -1.1,0M352.57,88.93m-0.55,0a0.55,0.55 0 1,0 1.1,0a0.55,0.55 0 1,0 -1.1,0M354.18,87.32m-0.55,0a0.55,0.55 0 1,0 1.1,0a0.55,0.55 0 1,0 -1.1,0M355.79,85.71m-0.55,0a0.55,0.55 0 1,0 1.1,0a0.55,0.55 0 1,0 -1.1,0M357.40,84.10m-0.55,0a0.55,0.55 0 1,0 1.1,0a0.55,0.55 0 1,0 -1.1,0M359.01,82.49m-0.55,0a0.55,0.55 0 1,0 1.1,0a0.55,0.55 0 1,0 -1.1,0M360.62,80.88m-0.55,0a0.55,0.55 0 1,0 1.1,0a0.55,0.55 0 1,0 -1.1,0M362.23,79.27m-0.55,0a0.55,0.55 0 1,0 1.1,0a0.55,0.55 0 1,0 -1.1,0M363.84,77.66m-0.55,0a0.55,0.55 0 1,0 1.1,0a0.55,0.55 0 1,0 -1.1,0M365.45,76.05m-0.55,0a0.55,0.55 0 1,0 1.1,0a0.55,0.55 0 1,0 -1.1,0M367.06,74.44m-0.55,0a0.55,0.55 0 1,0 1.1,0a0.55,0.55 0 1,0 -1.1,0M368.67,72.83m-0.55,0a0.55,0.55 0 1,0 1.1,0a0.55,0.55 0 1,0 -1.1,0M370.28,71.22m-0.55,0a0.55,0.55 0 1,0 1.1,0a0.55,0.55 0 1,0 -1.1,0M371.89,69.61m-0.55,0a0.55,0.55 0 1,0 1.1,0a0.55,0.55 0 1,0 -1.1,0M373.50,68.00m-0.55,0a0.55,0.55 0 1,0 1.1,0a0.55,0.55 0 1,0 -1.1,0M375.10,66.40m-0.55,0a0.55,0.55 0 1,0 1.1,0a0.55,0.55 0 1,0 -1.1,0M376.71,64.79m-0.55,0a0.55,0.55 0 1,0 1.1,0a0.55,0.55 0 1,0 -1.1,0M378.32,63.18m-0.55,0a0.55,0.55 0 1,0 1.1,0a0.55,0.55 0 1,0 -1.1,0M379.93,61.57m-0.55,0a0.55,0.55 0 1,0 1.1,0a0.55,0.55 0 1,0 -1.1,0M381.54,59.96m-0.55,0a0.55,0.55 0 1,0 1.1,0a0.55,0.55 0 1,0 -1.1,0M383.15,58.35m-0.55,0a0.55,0.55 0 1,0 1.1,0a0.55,0.55 0 1,0 -1.1,0M384.76,56.74m-0.55,0a0.55,0.55 0 1,0 1.1,0a0.55,0.55 0 1,0 -1.1,0M386.37,55.13m-0.55,0a0.55,0.55 0 1,0 1.1,0a0.55,0.55 0 1,0 -1.1,0M387.98,53.52m-0.55,0a0.55,0.55 0 1,0 1.1,0a0.55,0.55 0 1,0 -1.1,0M389.59,51.91m-0.55,0a0.55,0.55 0 1,0 1.1,0a0.55,0.55 0 1,0 -1.1,0M391.20,50.30m-0.55,0a0.55,0.55 0 1,0 1.1,0a0.55,0.55 0 1,0 -1.1,0M392.81,48.69m-0.55,0a0.55,0.55 0 1,0 1.1,0a0.55,0.55 0 1,0 -1.1,0M394.42,47.08m-0.55,0a0.55,0.55 0 1,0 1.1,0a0.55,0.55 0 1,0 -1.1,0M396.03,45.47m-0.55,0a0.55,0.55 0 1,0 1.1,0a0.55,0.55 0 1,0 -1.1,0M397.64,43.86m-0.55,0a0.55,0.55 0 1,0 1.1,0a0.55,0.55 0 1,0 -1.1,0M399.25,42.25m-0.55,0a0.55,0.55 0 1,0 1.1,0a0.55,0.55 0 1,0 -1.1,0M400.86,40.64m-0.55,0a0.55,0.55 0 1,0 1.1,0a0.55,0.55 0 1,0 -1.1,0M402.47,39.03m-0.55,0a0.55,0.55 0 1,0 1.1,0a0.55,0.55 0 1,0 -1.1,0M404.08,37.42m-0.55,0a0.55,0.55 0 1,0 1.1,0a0.55,0.55 0 1,0 -1.1,0M405.69,35.81m-0.55,0a0.55,0.55 0 1,0 1.1,0a0.55,0.55 0 1,0 -1.1,0M407.30,34.20m-0.55,0a0.55,0.55 0 1,0 1.1,0a0.55,0.55 0 1,0 -1.1,0" fill="#000"/>
<circle cx="341.30" cy="100.20" r="1.2" fill="#a8001f"/>
<circle cx="405.92" cy="35.52" r="1.2" fill="#a8001f"/>
<circle cx="405.46" cy="36.18" r="1.2" fill="#a8001f"/>
<circle cx="404.80" cy="36.97" r="1.2" fill="#a8001f"/>
<circle cx="397.62" cy="43.48" r="1.2" fill="#a8001f"/>
<circle cx="393.74" cy="44.60" r="1.2" fill="#a8001f"/>
<text x="477.10" y="17.30" font-size="6.8" fill="#111" text-anchor="middle" font-weight="normal">XD83 Rel1</text>
<text x="477.10" y="25.70" font-size="4.5" fill="#000" text-anchor="middle" font-weight="bold" textLength="33.5" lengthAdjust="spacingAndGlyphs">% mutated cells</text>
<text x="466.80" y="30.60" font-size="4.4" fill="#333" text-anchor="start" font-weight="normal" font-style="italic">r</text>
<text x="468.20" y="33.20" font-size="3.3" fill="#333" text-anchor="start" font-weight="normal">p</text>
<text x="471.80" y="30.60" font-size="4.3" fill="#333" text-anchor="start" font-weight="normal" textLength="15" lengthAdjust="spacingAndGlyphs">= 0.999</text>
<line x1="443.60" y1="31.80" x2="443.60" y2="100.70" stroke="#000" stroke-width="1.1"/>
<line x1="443.10" y1="100.20" x2="512.10" y2="100.20" stroke="#000" stroke-width="1.1"/>
<line x1="440.30" y1="100.20" x2="443.60" y2="100.20" stroke="#000" stroke-width="0.9"/>
<text x="437.70" y="102.20" font-size="4.6" fill="#333" text-anchor="end" font-weight="normal">0</text>
<line x1="443.60" y1="100.20" x2="443.60" y2="103.40" stroke="#000" stroke-width="0.9"/>
<text x="443.60" y="110.60" font-size="4.6" fill="#333" text-anchor="middle" font-weight="normal">0</text>
<line x1="440.30" y1="93.62" x2="443.60" y2="93.62" stroke="#000" stroke-width="0.9"/>
<text x="437.70" y="95.62" font-size="4.6" fill="#333" text-anchor="end" font-weight="normal">10</text>
<line x1="450.18" y1="100.20" x2="450.18" y2="103.40" stroke="#000" stroke-width="0.9"/>
<text x="450.18" y="110.60" font-size="4.6" fill="#333" text-anchor="middle" font-weight="normal">10</text>
<line x1="440.30" y1="87.04" x2="443.60" y2="87.04" stroke="#000" stroke-width="0.9"/>
<text x="437.70" y="89.04" font-size="4.6" fill="#333" text-anchor="end" font-weight="normal">20</text>
<line x1="456.76" y1="100.20" x2="456.76" y2="103.40" stroke="#000" stroke-width="0.9"/>
<text x="456.76" y="110.60" font-size="4.6" fill="#333" text-anchor="middle" font-weight="normal">20</text>
<line x1="440.30" y1="80.46" x2="443.60" y2="80.46" stroke="#000" stroke-width="0.9"/>
<text x="437.70" y="82.46" font-size="4.6" fill="#333" text-anchor="end" font-weight="normal">30</text>
<line x1="463.34" y1="100.20" x2="463.34" y2="103.40" stroke="#000" stroke-width="0.9"/>
<text x="463.34" y="110.60" font-size="4.6" fill="#333" text-anchor="middle" font-weight="normal">30</text>
<line x1="440.30" y1="73.88" x2="443.60" y2="73.88" stroke="#000" stroke-width="0.9"/>
<text x="437.70" y="75.88" font-size="4.6" fill="#333" text-anchor="end" font-weight="normal">40</text>
<line x1="469.92" y1="100.20" x2="469.92" y2="103.40" stroke="#000" stroke-width="0.9"/>
<text x="469.92" y="110.60" font-size="4.6" fill="#333" text-anchor="middle" font-weight="normal">40</text>
<line x1="440.30" y1="67.30" x2="443.60" y2="67.30" stroke="#000" stroke-width="0.9"/>
<text x="437.70" y="69.30" font-size="4.6" fill="#333" text-anchor="end" font-weight="normal">50</text>
<line x1="476.50" y1="100.20" x2="476.50" y2="103.40" stroke="#000" stroke-width="0.9"/>
<text x="476.50" y="110.60" font-size="4.6" fill="#333" text-anchor="middle" font-weight="normal">50</text>
<line x1="440.30" y1="60.72" x2="443.60" y2="60.72" stroke="#000" stroke-width="0.9"/>
<text x="437.70" y="62.72" font-size="4.6" fill="#333" text-anchor="end" font-weight="normal">60</text>
<line x1="483.08" y1="100.20" x2="483.08" y2="103.40" stroke="#000" stroke-width="0.9"/>
<text x="483.08" y="110.60" font-size="4.6" fill="#333" text-anchor="middle" font-weight="normal">60</text>
<line x1="440.30" y1="54.14" x2="443.60" y2="54.14" stroke="#000" stroke-width="0.9"/>
<text x="437.70" y="56.14" font-size="4.6" fill="#333" text-anchor="end" font-weight="normal">70</text>
<line x1="489.66" y1="100.20" x2="489.66" y2="103.40" stroke="#000" stroke-width="0.9"/>
<text x="489.66" y="110.60" font-size="4.6" fill="#333" text-anchor="middle" font-weight="normal">70</text>
<line x1="440.30" y1="47.56" x2="443.60" y2="47.56" stroke="#000" stroke-width="0.9"/>
<text x="437.70" y="49.56" font-size="4.6" fill="#333" text-anchor="end" font-weight="normal">80</text>
<line x1="496.24" y1="100.20" x2="496.24" y2="103.40" stroke="#000" stroke-width="0.9"/>
<text x="496.24" y="110.60" font-size="4.6" fill="#333" text-anchor="middle" font-weight="normal">80</text>
<line x1="440.30" y1="40.98" x2="443.60" y2="40.98" stroke="#000" stroke-width="0.9"/>
<text x="437.70" y="42.98" font-size="4.6" fill="#333" text-anchor="end" font-weight="normal">90</text>
<line x1="502.82" y1="100.20" x2="502.82" y2="103.40" stroke="#000" stroke-width="0.9"/>
<text x="502.82" y="110.60" font-size="4.6" fill="#333" text-anchor="middle" font-weight="normal">90</text>
<line x1="440.30" y1="34.40" x2="443.60" y2="34.40" stroke="#000" stroke-width="0.9"/>
<text x="437.70" y="36.40" font-size="4.6" fill="#333" text-anchor="end" font-weight="normal">100</text>
<line x1="509.40" y1="100.20" x2="509.40" y2="103.40" stroke="#000" stroke-width="0.9"/>
<text x="509.40" y="110.60" font-size="4.6" fill="#333" text-anchor="middle" font-weight="normal">100</text>
<text x="477.50" y="120.20" font-size="6.6" fill="#111" text-anchor="middle" font-weight="normal" textLength="8.1" lengthAdjust="spacingAndGlyphs">BM</text>
<text x="0" y="0" font-size="6.6" fill="#111" text-anchor="middle" textLength="6.1" lengthAdjust="spacingAndGlyphs" transform="translate(422.50,65.80) rotate(-90)" dy="2.4">PB</text>
<path d="M446.40,100.20m-0.55,0a0.55,0.55 0 1,0 1.1,0a0.55,0.55 0 1,0 -1.1,0M447.98,98.56m-0.55,0a0.55,0.55 0 1,0 1.1,0a0.55,0.55 0 1,0 -1.1,0M449.56,96.92m-0.55,0a0.55,0.55 0 1,0 1.1,0a0.55,0.55 0 1,0 -1.1,0M451.14,95.29m-0.55,0a0.55,0.55 0 1,0 1.1,0a0.55,0.55 0 1,0 -1.1,0M452.72,93.65m-0.55,0a0.55,0.55 0 1,0 1.1,0a0.55,0.55 0 1,0 -1.1,0M454.30,92.01m-0.55,0a0.55,0.55 0 1,0 1.1,0a0.55,0.55 0 1,0 -1.1,0M455.88,90.38m-0.55,0a0.55,0.55 0 1,0 1.1,0a0.55,0.55 0 1,0 -1.1,0M457.46,88.74m-0.55,0a0.55,0.55 0 1,0 1.1,0a0.55,0.55 0 1,0 -1.1,0M459.04,87.10m-0.55,0a0.55,0.55 0 1,0 1.1,0a0.55,0.55 0 1,0 -1.1,0M460.62,85.46m-0.55,0a0.55,0.55 0 1,0 1.1,0a0.55,0.55 0 1,0 -1.1,0M462.20,83.83m-0.55,0a0.55,0.55 0 1,0 1.1,0a0.55,0.55 0 1,0 -1.1,0M463.78,82.19m-0.55,0a0.55,0.55 0 1,0 1.1,0a0.55,0.55 0 1,0 -1.1,0M465.36,80.55m-0.55,0a0.55,0.55 0 1,0 1.1,0a0.55,0.55 0 1,0 -1.1,0M466.94,78.91m-0.55,0a0.55,0.55 0 1,0 1.1,0a0.55,0.55 0 1,0 -1.1,0M468.52,77.28m-0.55,0a0.55,0.55 0 1,0 1.1,0a0.55,0.55 0 1,0 -1.1,0M470.10,75.64m-0.55,0a0.55,0.55 0 1,0 1.1,0a0.55,0.55 0 1,0 -1.1,0M471.68,74.00m-0.55,0a0.55,0.55 0 1,0 1.1,0a0.55,0.55 0 1,0 -1.1,0M473.26,72.36m-0.55,0a0.55,0.55 0 1,0 1.1,0a0.55,0.55 0 1,0 -1.1,0M474.84,70.72m-0.55,0a0.55,0.55 0 1,0 1.1,0a0.55,0.55 0 1,0 -1.1,0M476.42,69.09m-0.55,0a0.55,0.55 0 1,0 1.1,0a0.55,0.55 0 1,0 -1.1,0M478.00,67.45m-0.55,0a0.55,0.55 0 1,0 1.1,0a0.55,0.55 0 1,0 -1.1,0M479.58,65.81m-0.55,0a0.55,0.55 0 1,0 1.1,0a0.55,0.55 0 1,0 -1.1,0M481.16,64.17m-0.55,0a0.55,0.55 0 1,0 1.1,0a0.55,0.55 0 1,0 -1.1,0M482.74,62.54m-0.55,0a0.55,0.55 0 1,0 1.1,0a0.55,0.55 0 1,0 -1.1,0M484.32,60.90m-0.55,0a0.55,0.55 0 1,0 1.1,0a0.55,0.55 0 1,0 -1.1,0M485.90,59.26m-0.55,0a0.55,0.55 0 1,0 1.1,0a0.55,0.55 0 1,0 -1.1,0M487.48,57.62m-0.55,0a0.55,0.55 0 1,0 1.1,0a0.55,0.55 0 1,0 -1.1,0M489.06,55.99m-0.55,0a0.55,0.55 0 1,0 1.1,0a0.55,0.55 0 1,0 -1.1,0M490.64,54.35m-0.55,0a0.55,0.55 0 1,0 1.1,0a0.55,0.55 0 1,0 -1.1,0M492.22,52.71m-0.55,0a0.55,0.55 0 1,0 1.1,0a0.55,0.55 0 1,0 -1.1,0M493.80,51.08m-0.55,0a0.55,0.55 0 1,0 1.1,0a0.55,0.55 0 1,0 -1.1,0M495.38,49.44m-0.55,0a0.55,0.55 0 1,0 1.1,0a0.55,0.55 0 1,0 -1.1,0M496.96,47.80m-0.55,0a0.55,0.55 0 1,0 1.1,0a0.55,0.55 0 1,0 -1.1,0M498.54,46.16m-0.55,0a0.55,0.55 0 1,0 1.1,0a0.55,0.55 0 1,0 -1.1,0M500.12,44.53m-0.55,0a0.55,0.55 0 1,0 1.1,0a0.55,0.55 0 1,0 -1.1,0M501.70,42.89m-0.55,0a0.55,0.55 0 1,0 1.1,0a0.55,0.55 0 1,0 -1.1,0M503.28,41.25m-0.55,0a0.55,0.55 0 1,0 1.1,0a0.55,0.55 0 1,0 -1.1,0M504.86,39.61m-0.55,0a0.55,0.55 0 1,0 1.1,0a0.55,0.55 0 1,0 -1.1,0M506.44,37.98m-0.55,0a0.55,0.55 0 1,0 1.1,0a0.55,0.55 0 1,0 -1.1,0M508.02,36.34m-0.55,0a0.55,0.55 0 1,0 1.1,0a0.55,0.55 0 1,0 -1.1,0M509.60,34.70m-0.55,0a0.55,0.55 0 1,0 1.1,0a0.55,0.55 0 1,0 -1.1,0" fill="#000"/>
<circle cx="443.60" cy="100.20" r="1.2" fill="#a8001f"/>
<circle cx="444.26" cy="99.54" r="1.2" fill="#a8001f"/>
<circle cx="444.92" cy="100.20" r="1.2" fill="#a8001f"/>
<circle cx="444.26" cy="98.88" r="1.2" fill="#a8001f"/>
<circle cx="445.77" cy="97.83" r="1.2" fill="#a8001f"/>
<circle cx="444.92" cy="98.23" r="1.2" fill="#a8001f"/>
<circle cx="449.19" cy="93.82" r="1.2" fill="#a8001f"/>
<circle cx="454.13" cy="88.42" r="1.2" fill="#a8001f"/>
<circle cx="453.80" cy="89.01" r="1.2" fill="#a8001f"/>
<circle cx="459.52" cy="81.05" r="1.2" fill="#a8001f"/>
<circle cx="471.10" cy="73.68" r="1.2" fill="#a8001f"/>
<circle cx="509.01" cy="35.39" r="1.2" fill="#a8001f"/>
<circle cx="507.10" cy="37.10" r="1.2" fill="#a8001f"/>
<circle cx="507.69" cy="38.48" r="1.2" fill="#a8001f"/>
<circle cx="505.72" cy="39.07" r="1.2" fill="#a8001f"/>
<circle cx="501.31" cy="38.08" r="1.2" fill="#a8001f"/>
<circle cx="502.82" cy="38.28" r="1.2" fill="#a8001f"/>
<circle cx="501.64" cy="43.68" r="1.2" fill="#a8001f"/>
<text x="7.50" y="148.30" font-size="11.5" fill="#000" text-anchor="start" font-weight="bold">B</text>
<text x="120.40" y="147.60" font-size="6.8" fill="#222" text-anchor="start" font-weight="normal" textLength="30" lengthAdjust="spacingAndGlyphs">Genotype</text>
<rect x="120.40" y="152.90" width="8.30" height="7.70" fill="#c0c0c0"/>
<text x="131.80" y="159.30" font-size="6.7" fill="#222" text-anchor="start" font-weight="normal" textLength="10.1" lengthAdjust="spacingAndGlyphs">WT</text>
<rect x="151.70" y="152.90" width="8.10" height="7.70" fill="#4b5070"/>
<text x="163.50" y="159.30" font-size="6.7" fill="#222" text-anchor="start" font-weight="normal" textLength="11.8" lengthAdjust="spacingAndGlyphs">Mut</text>
<text x="277.80" y="147.60" font-size="6.8" fill="#222" text-anchor="start" font-weight="normal" textLength="41" lengthAdjust="spacingAndGlyphs">Sample origin</text>
<rect x="277.80" y="152.90" width="8.10" height="7.70" fill="#4a7cc0"/>
<text x="289.50" y="159.30" font-size="6.7" fill="#222" text-anchor="start" font-weight="normal" textLength="9.8" lengthAdjust="spacingAndGlyphs">BM</text>
<rect x="309.00" y="152.90" width="8.40" height="7.70" fill="#c8172f"/>
<text x="320.90" y="159.30" font-size="6.7" fill="#222" text-anchor="start" font-weight="normal" textLength="8.3" lengthAdjust="spacingAndGlyphs">PB</text>
<text x="31.60" y="171.90" font-size="9.1" fill="#111" text-anchor="start" font-weight="normal" textLength="19.3" lengthAdjust="spacingAndGlyphs">XF91</text>
<rect x="119.00" y="174.40" width="32.50" height="4.30" fill="#c8172f"/>
<rect x="151.50" y="174.40" width="32.80" height="4.30" fill="#4a7cc0"/>
<rect x="184.30" y="174.40" width="3.50" height="4.30" fill="#c8172f"/>
<rect x="187.80" y="174.40" width="4.80" height="4.30" fill="#4a7cc0"/>
<rect x="192.60" y="174.40" width="6.30" height="4.30" fill="#c8172f"/>
<rect x="198.90" y="174.40" width="3.10" height="4.30" fill="#4a7cc0"/>
<rect x="202.00" y="174.40" width="35.90" height="4.30" fill="#c8172f"/>
<rect x="237.90" y="174.40" width="9.00" height="4.30" fill="#4a7cc0"/>
<rect x="246.90" y="174.40" width="101.60" height="4.30" fill="#c8172f"/>
<rect x="348.50" y="174.40" width="30.70" height="4.30" fill="#4a7cc0"/>
<rect x="379.20" y="174.40" width="62.40" height="4.30" fill="#c8172f"/>
<rect x="441.60" y="174.40" width="8.80" height="4.30" fill="#4a7cc0"/>
<rect x="450.40" y="174.40" width="10.70" height="4.30" fill="#c8172f"/>
<rect x="461.10" y="174.40" width="0.80" height="4.30" fill="#4a7cc0"/>
<rect x="119.00" y="182.00" width="65.30" height="4.40" fill="#7dbb5e"/>
<rect x="184.90" y="182.00" width="7.40" height="4.40" fill="#cfe07e"/>
<rect x="192.90" y="182.00" width="8.80" height="4.40" fill="#e8eb9e"/>
<rect x="202.30" y="182.00" width="43.70" height="4.40" fill="#f7f3b9"/>
<rect x="246.50" y="182.00" width="4.30" height="4.40" fill="#f7f3b9"/>
<rect x="251.20" y="182.00" width="128.20" height="4.40" fill="#e9a45f"/>
<rect x="379.90" y="182.00" width="70.60" height="4.40" fill="#dc6d4b"/>
<rect x="451.00" y="182.00" width="10.90" height="4.40" fill="#c3262e"/>
<text x="156.50" y="185.50" font-size="4.3" fill="#000" text-anchor="middle" font-weight="bold" stroke="#000" stroke-width="0.15">C1</text>
<text x="188.30" y="185.50" font-size="4.3" fill="#000" text-anchor="middle" font-weight="bold" stroke="#000" stroke-width="0.15">C2</text>
<text x="197.40" y="185.50" font-size="4.3" fill="#000" text-anchor="middle" font-weight="bold" stroke="#000" stroke-width="0.15">C3</text>
<text x="224.50" y="185.50" font-size="4.3" fill="#000" text-anchor="middle" font-weight="bold" stroke="#000" stroke-width="0.15">C4</text>
<text x="247.60" y="185.50" font-size="4.3" fill="#000" text-anchor="middle" font-weight="bold" stroke="#000" stroke-width="0.15">C5</text>
<text x="316.00" y="185.50" font-size="4.3" fill="#000" text-anchor="middle" font-weight="bold" stroke="#000" stroke-width="0.15">C6</text>
<text x="416.00" y="185.50" font-size="4.3" fill="#000" text-anchor="middle" font-weight="bold" stroke="#000" stroke-width="0.15">C7</text>
<text x="456.30" y="185.50" font-size="4.3" fill="#fff" text-anchor="middle" font-weight="bold" stroke="#fff" stroke-width="0.15">WT</text>
<text x="466.30" y="178.50" font-size="6.4" fill="#222" text-anchor="start" font-weight="normal" textLength="21.6" lengthAdjust="spacingAndGlyphs">Sample</text>
<text x="466.30" y="186.20" font-size="6.4" fill="#222" text-anchor="start" font-weight="normal" textLength="20.4" lengthAdjust="spacingAndGlyphs">Cluster</text>
<text x="115.20" y="196.50" font-size="6.6" fill="#111" text-anchor="end" font-weight="normal">FBXW7.p.R465H</text>
<rect x="119.00" y="189.60" width="127.20" height="10.40" fill="#4b5070"/>
<rect x="246.20" y="189.60" width="3.20" height="10.40" fill="#c0c0c0"/>
<rect x="249.40" y="189.60" width="1.70" height="10.40" fill="#4b5070"/>
<rect x="251.10" y="189.60" width="1.50" height="10.40" fill="#c0c0c0"/>
<rect x="252.60" y="189.60" width="127.00" height="10.40" fill="#4b5070"/>
<rect x="379.60" y="189.60" width="82.30" height="10.40" fill="#c0c0c0"/>
<rect x="119.30" y="189.90" width="126.60" height="9.80" fill="none" stroke="#3a3f62" stroke-width="0.6"/>
<rect x="249.70" y="189.90" width="1.10" height="9.80" fill="none" stroke="#3a3f62" stroke-width="0.6"/>
<rect x="252.90" y="189.90" width="126.40" height="9.80" fill="none" stroke="#3a3f62" stroke-width="0.6"/>
<text x="115.20" y="207.10" font-size="6.6" fill="#111" text-anchor="end" font-weight="normal">USP7.chr16.9014215.C/T</text>
<rect x="119.00" y="200.00" width="128.60" height="10.80" fill="#4b5070"/>
<rect x="247.60" y="200.00" width="2.70" height="10.80" fill="#c0c0c0"/>
<rect x="250.30" y="200.00" width="129.30" height="10.80" fill="#4b5070"/>
<rect x="379.60" y="200.00" width="82.30" height="10.80" fill="#c0c0c0"/>
<rect x="119.30" y="200.30" width="128.00" height="10.20" fill="none" stroke="#3a3f62" stroke-width="0.6"/>
<rect x="250.60" y="200.30" width="128.70" height="10.20" fill="none" stroke="#3a3f62" stroke-width="0.6"/>
<text x="115.20" y="217.80" font-size="6.6" fill="#111" text-anchor="end" font-weight="normal">NOTCH1.p.E1623K</text>
<rect x="119.00" y="210.80" width="127.30" height="10.60" fill="#4b5070"/>
<rect x="246.30" y="210.80" width="133.30" height="10.60" fill="#c0c0c0"/>
<rect x="379.60" y="210.80" width="71.10" height="10.60" fill="#4b5070"/>
<rect x="450.70" y="210.80" width="11.20" height="10.60" fill="#c0c0c0"/>
<rect x="119.30" y="211.10" width="126.70" height="10.00" fill="none" stroke="#3a3f62" stroke-width="0.6"/>
<rect x="379.90" y="211.10" width="70.50" height="10.00" fill="none" stroke="#3a3f62" stroke-width="0.6"/>
<text x="115.20" y="228.25" font-size="6.6" fill="#111" text-anchor="end" font-weight="normal">NOTCH1.p.K1607insLAIYK</text>
<rect x="119.00" y="221.40" width="65.40" height="10.30" fill="#4b5070"/>
<rect x="184.40" y="221.40" width="277.50" height="10.30" fill="#c0c0c0"/>
<rect x="234.50" y="221.40" width="0.70" height="10.30" fill="#8d90a6"/>
<rect x="238.50" y="221.40" width="0.70" height="10.30" fill="#8d90a6"/>
<rect x="241.00" y="221.40" width="0.80" height="10.30" fill="#8d90a6"/>
<rect x="244.00" y="221.40" width="0.80" height="10.30" fill="#8d90a6"/>
<rect x="119.30" y="221.70" width="64.80" height="9.70" fill="none" stroke="#3a3f62" stroke-width="0.6"/>
<text x="115.20" y="238.50" font-size="6.6" fill="#111" text-anchor="end" font-weight="normal">NOTCH1.p.V1578del</text>
<rect x="119.00" y="231.70" width="65.40" height="10.20" fill="#c0c0c0"/>
<rect x="184.40" y="231.70" width="17.40" height="10.20" fill="#4b5070"/>
<rect x="201.80" y="231.70" width="260.10" height="10.20" fill="#c0c0c0"/>
<rect x="184.70" y="232.00" width="16.80" height="9.60" fill="none" stroke="#3a3f62" stroke-width="0.6"/>
<text x="115.20" y="248.70" font-size="6.6" fill="#111" text-anchor="end" font-weight="normal">CREBBP.p.S1763Efs*203</text>
<rect x="119.00" y="241.90" width="65.40" height="10.20" fill="#c0c0c0"/>
<rect x="184.40" y="241.90" width="8.10" height="10.20" fill="#4b5070"/>
<rect x="192.50" y="241.90" width="269.40" height="10.20" fill="#c0c0c0"/>
<rect x="203.50" y="241.90" width="0.80" height="10.20" fill="#8d90a6"/>
<rect x="213.50" y="241.90" width="1.50" height="10.20" fill="#8d90a6"/>
<rect x="184.70" y="242.20" width="7.50" height="9.60" fill="none" stroke="#3a3f62" stroke-width="0.6"/>
<text x="115.20" y="258.80" font-size="6.6" fill="#111" text-anchor="end" font-weight="normal">SETD2.p.P192L</text>
<rect x="119.00" y="252.10" width="128.20" height="9.20" fill="#c0c0c0"/>
<rect x="247.20" y="252.10" width="1.30" height="9.20" fill="#4b5070"/>
<rect x="248.50" y="252.10" width="213.40" height="9.20" fill="#c0c0c0"/>
<rect x="247.50" y="252.40" width="0.70" height="8.60" fill="none" stroke="#3a3f62" stroke-width="0.6"/>
<rect x="216.95" y="189.60" width="0.70" height="10.40" fill="#6b7092"/>
<rect x="218.40" y="189.60" width="0.70" height="10.40" fill="#6b7092"/>
<rect x="236.65" y="189.60" width="0.70" height="10.40" fill="#6b7092"/>
<rect x="239.05" y="189.60" width="0.70" height="10.40" fill="#6b7092"/>
<rect x="240.95" y="189.60" width="0.70" height="10.40" fill="#6b7092"/>
<rect x="243.85" y="189.60" width="0.70" height="10.40" fill="#6b7092"/>
<rect x="246.20" y="189.60" width="2.20" height="10.40" fill="#9a9cb0"/>
<rect x="251.20" y="189.60" width="1.30" height="10.40" fill="#e8e8ee"/>
<rect x="216.45" y="200.00" width="0.70" height="10.80" fill="#6b7092"/>
<rect x="218.85" y="200.00" width="0.70" height="10.80" fill="#6b7092"/>
<rect x="227.05" y="200.00" width="0.70" height="10.80" fill="#6b7092"/>
<rect x="233.25" y="200.00" width="0.70" height="10.80" fill="#6b7092"/>
<rect x="235.25" y="200.00" width="0.70" height="10.80" fill="#6b7092"/>
<rect x="238.65" y="200.00" width="0.70" height="10.80" fill="#6b7092"/>
<rect x="243.40" y="200.00" width="0.70" height="10.80" fill="#6b7092"/>
<rect x="244.95" y="200.00" width="0.70" height="10.80" fill="#6b7092"/>
<rect x="226.55" y="200.00" width="0.50" height="10.80" fill="#6b7092"/>
<rect x="219.40" y="221.40" width="0.60" height="10.30" fill="#a2a4b4"/>
<rect x="232.90" y="221.40" width="0.60" height="10.30" fill="#a2a4b4"/>
<rect x="235.30" y="221.40" width="0.60" height="10.30" fill="#a2a4b4"/>
<rect x="237.70" y="221.40" width="0.60" height="10.30" fill="#a2a4b4"/>
<rect x="240.10" y="221.40" width="0.60" height="10.30" fill="#a2a4b4"/>
<rect x="242.70" y="221.40" width="0.60" height="10.30" fill="#a2a4b4"/>
<rect x="268.48" y="231.70" width="0.55" height="10.20" fill="#a2a4b4"/>
<rect x="288.48" y="231.70" width="0.55" height="10.20" fill="#a2a4b4"/>
<rect x="302.23" y="231.70" width="0.55" height="10.20" fill="#a2a4b4"/>
<rect x="308.48" y="231.70" width="0.55" height="10.20" fill="#a2a4b4"/>
<rect x="313.48" y="231.70" width="0.55" height="10.20" fill="#a2a4b4"/>
<rect x="339.73" y="231.70" width="0.55" height="10.20" fill="#a2a4b4"/>
<rect x="343.48" y="231.70" width="0.55" height="10.20" fill="#a2a4b4"/>
<rect x="350.98" y="231.70" width="0.55" height="10.20" fill="#a2a4b4"/>
<rect x="353.48" y="231.70" width="0.55" height="10.20" fill="#a2a4b4"/>
<rect x="365.98" y="231.70" width="0.55" height="10.20" fill="#a2a4b4"/>
<rect x="368.48" y="231.70" width="0.55" height="10.20" fill="#a2a4b4"/>
<rect x="372.23" y="231.70" width="0.55" height="10.20" fill="#a2a4b4"/>
<rect x="374.73" y="231.70" width="0.55" height="10.20" fill="#a2a4b4"/>
<rect x="382.73" y="231.70" width="0.55" height="10.20" fill="#a2a4b4"/>
<rect x="385.73" y="231.70" width="0.55" height="10.20" fill="#a2a4b4"/>
<rect x="125.22" y="241.90" width="0.55" height="10.20" fill="#a2a4b4"/>
<rect x="288.48" y="241.90" width="0.55" height="10.20" fill="#a2a4b4"/>
<rect x="310.98" y="241.90" width="0.55" height="10.20" fill="#a2a4b4"/>
<rect x="352.23" y="241.90" width="0.55" height="10.20" fill="#a2a4b4"/>
<rect x="365.98" y="241.90" width="0.55" height="10.20" fill="#a2a4b4"/>
<rect x="369.73" y="241.90" width="0.55" height="10.20" fill="#a2a4b4"/>
<rect x="373.48" y="241.90" width="0.55" height="10.20" fill="#a2a4b4"/>
<rect x="203.72" y="241.90" width="0.55" height="10.20" fill="#a2a4b4"/>
<rect x="205.22" y="241.90" width="0.55" height="10.20" fill="#a2a4b4"/>
<rect x="213.72" y="241.90" width="0.55" height="10.20" fill="#a2a4b4"/>
<rect x="195.72" y="241.90" width="0.55" height="10.20" fill="#a2a4b4"/>
<rect x="197.22" y="241.90" width="0.55" height="10.20" fill="#a2a4b4"/>
<rect x="277.25" y="200.00" width="0.50" height="10.80" fill="#6b7092"/>
<rect x="196.25" y="200.00" width="0.50" height="10.80" fill="#6b7092"/>
<rect x="197.95" y="200.00" width="0.50" height="10.80" fill="#6b7092"/>
<rect x="119.00" y="199.00" width="342.90" height="1.00" fill="#fff" fill-opacity="0.5"/>
<rect x="119.00" y="210.00" width="342.90" height="1.00" fill="#fff" fill-opacity="0.5"/>
<rect x="119.00" y="221.00" width="342.90" height="1.00" fill="#fff" fill-opacity="0.5"/>
<rect x="119.00" y="231.00" width="342.90" height="1.00" fill="#fff" fill-opacity="0.5"/>
<rect x="119.00" y="241.00" width="342.90" height="1.00" fill="#fff" fill-opacity="0.5"/>
<rect x="119.00" y="251.00" width="342.90" height="1.00" fill="#fff" fill-opacity="0.5"/>
<rect x="183.95" y="189.60" width="0.90" height="71.70" fill="#f4f4f4"/>
<rect x="192.05" y="189.60" width="0.90" height="71.70" fill="#f4f4f4"/>
<rect x="201.55" y="189.60" width="0.90" height="71.70" fill="#f4f4f4"/>
<rect x="248.45" y="189.60" width="0.90" height="71.70" fill="#f4f4f4"/>
<rect x="379.15" y="189.60" width="0.90" height="71.70" fill="#f4f4f4"/>
<rect x="450.25" y="189.60" width="0.90" height="71.70" fill="#f4f4f4"/>
<text x="31.60" y="281.50" font-size="9.1" fill="#111" text-anchor="start" font-weight="normal" textLength="19.6" lengthAdjust="spacingAndGlyphs">XF97</text>
<rect x="119.00" y="283.90" width="127.50" height="4.30" fill="#c8172f"/>
<rect x="246.50" y="283.90" width="145.40" height="4.30" fill="#4a7cc0"/>
<rect x="391.90" y="283.90" width="14.50" height="4.30" fill="#c8172f"/>
<rect x="406.40" y="283.90" width="16.60" height="4.30" fill="#4a7cc0"/>
<rect x="423.00" y="283.90" width="6.30" height="4.30" fill="#c8172f"/>
<rect x="429.30" y="283.90" width="2.80" height="4.30" fill="#4a7cc0"/>
<rect x="432.10" y="283.90" width="5.20" height="4.30" fill="#c8172f"/>
<rect x="437.30" y="283.90" width="1.60" height="4.30" fill="#4a7cc0"/>
<rect x="438.90" y="283.90" width="21.00" height="4.30" fill="#c8172f"/>
<rect x="459.90" y="283.90" width="2.00" height="4.30" fill="#4a7cc0"/>
<rect x="119.00" y="291.00" width="272.70" height="4.10" fill="#d9e28a"/>
<rect x="392.30" y="291.00" width="30.90" height="4.10" fill="#f8f3c0"/>
<rect x="423.70" y="291.00" width="8.30" height="4.10" fill="#f6da86"/>
<rect x="432.00" y="291.00" width="2.50" height="4.10" fill="#f0a862"/>
<rect x="434.50" y="291.00" width="6.00" height="4.10" fill="#e57f4b"/>
<rect x="440.80" y="291.00" width="21.10" height="4.10" fill="#c3262e"/>
<text x="254.50" y="294.20" font-size="4.3" fill="#000" text-anchor="middle" font-weight="bold" stroke="#000" stroke-width="0.15">C1</text>
<text x="408.00" y="294.20" font-size="4.3" fill="#000" text-anchor="middle" font-weight="bold" stroke="#000" stroke-width="0.15">C2</text>
<text x="428.10" y="294.20" font-size="4.3" fill="#000" text-anchor="middle" font-weight="bold" stroke="#000" stroke-width="0.15">C3</text>
<text x="438.00" y="294.20" font-size="4.3" fill="#000" text-anchor="middle" font-weight="bold" stroke="#000" stroke-width="0.15">C5</text>
<text x="450.50" y="294.20" font-size="4.3" fill="#fff" text-anchor="middle" font-weight="bold" stroke="#fff" stroke-width="0.15">WT</text>
<text x="466.30" y="288.00" font-size="6.4" fill="#222" text-anchor="start" font-weight="normal" textLength="21.6" lengthAdjust="spacingAndGlyphs">Sample</text>
<text x="466.30" y="294.90" font-size="6.4" fill="#222" text-anchor="start" font-weight="normal" textLength="20.4" lengthAdjust="spacingAndGlyphs">Cluster</text>
<text x="115.20" y="306.30" font-size="6.6" fill="#111" text-anchor="end" font-weight="normal">WT1.p.S386Vfs*4</text>
<rect x="119.00" y="299.10" width="20.30" height="11.00" fill="#4b5070"/>
<rect x="139.30" y="299.10" width="2.70" height="11.00" fill="#c0c0c0"/>
<rect x="142.00" y="299.10" width="297.10" height="11.00" fill="#4b5070"/>
<rect x="439.10" y="299.10" width="22.80" height="11.00" fill="#c0c0c0"/>
<rect x="119.30" y="299.40" width="19.70" height="10.40" fill="none" stroke="#3a3f62" stroke-width="0.6"/>
<rect x="142.30" y="299.40" width="296.50" height="10.40" fill="none" stroke="#3a3f62" stroke-width="0.6"/>
<text x="115.20" y="316.75" font-size="6.6" fill="#111" text-anchor="end" font-weight="normal">USP7.p.D482delinsEYYAY*P</text>
<rect x="119.00" y="310.10" width="16.30" height="9.90" fill="#4b5070"/>
<rect x="135.30" y="310.10" width="3.50" height="9.90" fill="#c0c0c0"/>
<rect x="138.80" y="310.10" width="300.30" height="9.90" fill="#4b5070"/>
<rect x="439.10" y="310.10" width="22.80" height="9.90" fill="#c0c0c0"/>
<rect x="119.30" y="310.40" width="15.70" height="9.30" fill="none" stroke="#3a3f62" stroke-width="0.6"/>
<rect x="139.10" y="310.40" width="299.70" height="9.30" fill="none" stroke="#3a3f62" stroke-width="0.6"/>
<text x="115.20" y="327.10" font-size="6.6" fill="#111" text-anchor="end" font-weight="normal">JAK3.p.M511I</text>
<rect x="119.00" y="320.00" width="11.70" height="10.80" fill="#4b5070"/>
<rect x="130.70" y="320.00" width="3.90" height="10.80" fill="#c0c0c0"/>
<rect x="134.60" y="320.00" width="304.50" height="10.80" fill="#4b5070"/>
<rect x="439.10" y="320.00" width="22.80" height="10.80" fill="#c0c0c0"/>
<rect x="119.30" y="320.30" width="11.10" height="10.20" fill="none" stroke="#3a3f62" stroke-width="0.6"/>
<rect x="134.90" y="320.30" width="303.90" height="10.20" fill="none" stroke="#3a3f62" stroke-width="0.6"/>
<text x="115.20" y="337.50" font-size="6.6" fill="#111" text-anchor="end" font-weight="normal">DNM2.p.Q715*</text>
<rect x="119.00" y="330.80" width="4.00" height="10.00" fill="#4b5070"/>
<rect x="123.00" y="330.80" width="7.70" height="10.00" fill="#c0c0c0"/>
<rect x="130.70" y="330.80" width="308.40" height="10.00" fill="#4b5070"/>
<rect x="439.10" y="330.80" width="22.80" height="10.00" fill="#c0c0c0"/>
<rect x="119.30" y="331.10" width="3.40" height="9.40" fill="none" stroke="#3a3f62" stroke-width="0.6"/>
<rect x="131.00" y="331.10" width="307.80" height="9.40" fill="none" stroke="#3a3f62" stroke-width="0.6"/>
<text x="115.20" y="347.90" font-size="6.6" fill="#111" text-anchor="end" font-weight="normal">JAK1.p.P815S</text>
<rect x="119.00" y="340.80" width="4.00" height="10.80" fill="#c0c0c0"/>
<rect x="123.00" y="340.80" width="300.40" height="10.80" fill="#4b5070"/>
<rect x="423.40" y="340.80" width="38.50" height="10.80" fill="#c0c0c0"/>
<rect x="123.30" y="341.10" width="299.80" height="10.20" fill="none" stroke="#3a3f62" stroke-width="0.6"/>
<text x="115.20" y="358.40" font-size="6.6" fill="#111" text-anchor="end" font-weight="normal">NOTCH1.p.L1585P</text>
<rect x="119.00" y="351.60" width="272.90" height="10.20" fill="#4b5070"/>
<rect x="391.90" y="351.60" width="70.00" height="10.20" fill="#c0c0c0"/>
<rect x="119.30" y="351.90" width="272.30" height="9.60" fill="none" stroke="#3a3f62" stroke-width="0.6"/>
<text x="115.20" y="368.80" font-size="6.6" fill="#111" text-anchor="end" font-weight="normal">NOTCH1.p.L1574P</text>
<rect x="119.00" y="361.80" width="304.40" height="10.60" fill="#c0c0c0"/>
<rect x="423.40" y="361.80" width="8.10" height="10.60" fill="#4b5070"/>
<rect x="431.50" y="361.80" width="30.40" height="10.60" fill="#c0c0c0"/>
<rect x="423.70" y="362.10" width="7.50" height="10.00" fill="none" stroke="#3a3f62" stroke-width="0.6"/>
<text x="115.20" y="379.35" font-size="6.6" fill="#111" text-anchor="end" font-weight="normal">JAK1.p.R724H</text>
<rect x="119.00" y="372.40" width="313.60" height="9.70" fill="#c0c0c0"/>
<rect x="432.60" y="372.40" width="1.40" height="9.70" fill="#4b5070"/>
<rect x="434.00" y="372.40" width="27.90" height="9.70" fill="#c0c0c0"/>
<rect x="432.90" y="372.70" width="0.80" height="9.10" fill="none" stroke="#3a3f62" stroke-width="0.6"/>
<rect x="121.65" y="299.10" width="0.70" height="11.00" fill="#53587a"/>
<rect x="124.65" y="299.10" width="0.70" height="11.00" fill="#53587a"/>
<rect x="128.35" y="299.10" width="0.70" height="11.00" fill="#53587a"/>
<rect x="132.65" y="299.10" width="0.70" height="11.00" fill="#53587a"/>
<rect x="122.15" y="310.10" width="0.70" height="9.90" fill="#53587a"/>
<rect x="125.65" y="310.10" width="0.70" height="9.90" fill="#53587a"/>
<rect x="129.15" y="310.10" width="0.70" height="9.90" fill="#53587a"/>
<rect x="121.15" y="320.00" width="0.70" height="10.80" fill="#53587a"/>
<rect x="124.15" y="320.00" width="0.70" height="10.80" fill="#53587a"/>
<rect x="127.15" y="320.00" width="0.70" height="10.80" fill="#53587a"/>
<rect x="124.60" y="340.80" width="0.80" height="10.80" fill="#54597b"/>
<rect x="127.80" y="340.80" width="0.80" height="10.80" fill="#54597b"/>
<rect x="131.00" y="340.80" width="0.80" height="10.80" fill="#54597b"/>
<rect x="134.10" y="340.80" width="0.80" height="10.80" fill="#54597b"/>
<rect x="137.30" y="340.80" width="0.80" height="10.80" fill="#54597b"/>
<rect x="392.75" y="299.10" width="0.70" height="11.00" fill="#5d6284"/>
<rect x="399.15" y="299.10" width="0.70" height="11.00" fill="#5d6284"/>
<rect x="404.85" y="299.10" width="0.70" height="11.00" fill="#5d6284"/>
<rect x="410.45" y="299.10" width="0.70" height="11.00" fill="#5d6284"/>
<rect x="412.85" y="299.10" width="0.70" height="11.00" fill="#5d6284"/>
<rect x="416.95" y="299.10" width="0.70" height="11.00" fill="#5d6284"/>
<rect x="419.35" y="299.10" width="0.70" height="11.00" fill="#5d6284"/>
<rect x="393.65" y="310.10" width="0.70" height="9.90" fill="#5d6284"/>
<rect x="399.15" y="310.10" width="0.70" height="9.90" fill="#5d6284"/>
<rect x="403.65" y="310.10" width="0.70" height="9.90" fill="#5d6284"/>
<rect x="409.15" y="310.10" width="0.70" height="9.90" fill="#5d6284"/>
<rect x="412.85" y="310.10" width="0.70" height="9.90" fill="#5d6284"/>
<rect x="416.95" y="310.10" width="0.70" height="9.90" fill="#5d6284"/>
<rect x="420.15" y="310.10" width="0.70" height="9.90" fill="#5d6284"/>
<rect x="392.75" y="320.00" width="0.70" height="10.80" fill="#5d6284"/>
<rect x="396.65" y="320.00" width="0.70" height="10.80" fill="#5d6284"/>
<rect x="401.65" y="320.00" width="0.70" height="10.80" fill="#5d6284"/>
<rect x="406.15" y="320.00" width="0.70" height="10.80" fill="#5d6284"/>
<rect x="410.45" y="320.00" width="0.70" height="10.80" fill="#5d6284"/>
<rect x="414.65" y="320.00" width="0.70" height="10.80" fill="#5d6284"/>
<rect x="419.35" y="320.00" width="0.70" height="10.80" fill="#5d6284"/>
<rect x="393.65" y="330.80" width="0.70" height="10.00" fill="#5d6284"/>
<rect x="398.15" y="330.80" width="0.70" height="10.00" fill="#5d6284"/>
<rect x="402.65" y="330.80" width="0.70" height="10.00" fill="#5d6284"/>
<rect x="407.65" y="330.80" width="0.70" height="10.00" fill="#5d6284"/>
<rect x="411.65" y="330.80" width="0.70" height="10.00" fill="#5d6284"/>
<rect x="416.15" y="330.80" width="0.70" height="10.00" fill="#5d6284"/>
<rect x="420.15" y="330.80" width="0.70" height="10.00" fill="#5d6284"/>
<rect x="431.60" y="299.10" width="2.40" height="11.00" fill="#8a8ea8"/>
<rect x="431.60" y="310.10" width="2.40" height="9.90" fill="#8a8ea8"/>
<rect x="431.60" y="320.00" width="2.40" height="10.80" fill="#8a8ea8"/>
<rect x="431.60" y="330.80" width="2.40" height="10.00" fill="#8a8ea8"/>
<rect x="432.50" y="361.80" width="4.00" height="10.60" fill="#cacad0"/>
<rect x="171.25" y="361.80" width="0.50" height="10.60" fill="#ababb6"/>
<rect x="230.15" y="361.80" width="0.50" height="10.60" fill="#ababb6"/>
<rect x="257.55" y="361.80" width="0.50" height="10.60" fill="#ababb6"/>
<rect x="288.55" y="361.80" width="0.50" height="10.60" fill="#ababb6"/>
<rect x="301.65" y="361.80" width="0.50" height="10.60" fill="#ababb6"/>
<rect x="334.35" y="361.80" width="0.50" height="10.60" fill="#ababb6"/>
<rect x="362.15" y="361.80" width="0.50" height="10.60" fill="#ababb6"/>
<rect x="397.75" y="361.80" width="0.50" height="10.60" fill="#ababb6"/>
<rect x="403.75" y="361.80" width="0.50" height="10.60" fill="#ababb6"/>
<rect x="412.75" y="361.80" width="0.50" height="10.60" fill="#ababb6"/>
<rect x="151.65" y="372.40" width="0.50" height="9.70" fill="#ababb6"/>
<rect x="212.75" y="372.40" width="0.50" height="9.70" fill="#ababb6"/>
<rect x="119.00" y="309.00" width="342.90" height="1.00" fill="#fff" fill-opacity="0.5"/>
<rect x="119.00" y="319.00" width="342.90" height="1.00" fill="#fff" fill-opacity="0.5"/>
<rect x="119.00" y="330.00" width="342.90" height="1.00" fill="#fff" fill-opacity="0.5"/>
<rect x="119.00" y="340.00" width="342.90" height="1.00" fill="#fff" fill-opacity="0.5"/>
<rect x="119.00" y="351.00" width="342.90" height="1.00" fill="#fff" fill-opacity="0.5"/>
<rect x="119.00" y="361.00" width="342.90" height="1.00" fill="#fff" fill-opacity="0.5"/>
<rect x="119.00" y="372.00" width="342.90" height="1.00" fill="#fff" fill-opacity="0.5"/>
<rect x="391.45" y="299.10" width="0.90" height="83.00" fill="#f4f4f4"/>
<rect x="422.95" y="299.10" width="0.90" height="83.00" fill="#f4f4f4"/>
<rect x="431.05" y="299.10" width="0.90" height="83.00" fill="#f4f4f4"/>
<rect x="433.65" y="299.10" width="0.90" height="83.00" fill="#f4f4f4"/>
<rect x="438.85" y="299.10" width="0.90" height="83.00" fill="#f4f4f4"/>
<text x="437.00" y="278.90" font-size="4.3" fill="#000" text-anchor="middle" font-weight="bold">C4</text>
<line x1="436.70" y1="281.30" x2="433.60" y2="289.60" stroke="#000" stroke-width="0.7"/>
<path d="M432.9,291.7 L432.6,288.6 L434.6,289.3 Z" fill="#000"/>
<text x="31.60" y="401.60" font-size="9.1" fill="#111" text-anchor="start" font-weight="normal" textLength="25.2" lengthAdjust="spacingAndGlyphs">XF100</text>
<rect x="119.00" y="404.00" width="65.20" height="4.20" fill="#c8172f"/>
<rect x="184.20" y="404.00" width="75.00" height="4.20" fill="#4a7cc0"/>
<rect x="259.20" y="404.00" width="22.30" height="4.20" fill="#c8172f"/>
<rect x="281.50" y="404.00" width="19.70" height="4.20" fill="#4a7cc0"/>
<rect x="301.20" y="404.00" width="18.40" height="4.20" fill="#c8172f"/>
<rect x="319.60" y="404.00" width="28.90" height="4.20" fill="#4a7cc0"/>
<rect x="348.50" y="404.00" width="27.20" height="4.20" fill="#c8172f"/>
<rect x="375.70" y="404.00" width="19.00" height="4.20" fill="#4a7cc0"/>
<rect x="394.70" y="404.00" width="35.30" height="4.20" fill="#c8172f"/>
<rect x="430.00" y="404.00" width="31.90" height="4.20" fill="#4a7cc0"/>
<rect x="119.00" y="411.10" width="139.60" height="4.50" fill="#f8f4c4"/>
<rect x="259.30" y="411.10" width="41.70" height="4.50" fill="#f1d684"/>
<rect x="301.60" y="411.10" width="46.00" height="4.50" fill="#e8a760"/>
<rect x="348.30" y="411.10" width="46.20" height="4.50" fill="#e07c4f"/>
<rect x="395.00" y="411.10" width="66.90" height="4.50" fill="#c3262e"/>
<text x="189.50" y="414.70" font-size="4.3" fill="#000" text-anchor="middle" font-weight="bold" stroke="#000" stroke-width="0.15">C1</text>
<text x="280.40" y="414.70" font-size="4.3" fill="#000" text-anchor="middle" font-weight="bold" stroke="#000" stroke-width="0.15">C2</text>
<text x="324.90" y="414.70" font-size="4.3" fill="#000" text-anchor="middle" font-weight="bold" stroke="#000" stroke-width="0.15">C3</text>
<text x="373.00" y="414.70" font-size="4.3" fill="#000" text-anchor="middle" font-weight="bold" stroke="#000" stroke-width="0.15">C4</text>
<text x="428.30" y="414.70" font-size="4.3" fill="#fff" text-anchor="middle" font-weight="bold" stroke="#fff" stroke-width="0.15">WT</text>
<text x="466.30" y="408.00" font-size="6.4" fill="#222" text-anchor="start" font-weight="normal" textLength="21.6" lengthAdjust="spacingAndGlyphs">Sample</text>
<text x="466.30" y="415.40" font-size="6.4" fill="#222" text-anchor="start" font-weight="normal" textLength="20.4" lengthAdjust="spacingAndGlyphs">Cluster</text>
<text x="115.20" y="425.25" font-size="6.6" fill="#111" text-anchor="end" font-weight="normal">WT1.p.V376Lfs*5</text>
<rect x="119.00" y="418.30" width="9.90" height="10.50" fill="#4b5070"/>
<rect x="128.90" y="418.30" width="3.20" height="10.50" fill="#c0c0c0"/>
<rect x="132.10" y="418.30" width="262.70" height="10.50" fill="#4b5070"/>
<rect x="394.80" y="418.30" width="67.10" height="10.50" fill="#c0c0c0"/>
<rect x="119.30" y="418.60" width="9.30" height="9.90" fill="none" stroke="#3a3f62" stroke-width="0.6"/>
<rect x="132.40" y="418.60" width="262.10" height="9.90" fill="none" stroke="#3a3f62" stroke-width="0.6"/>
<text x="115.20" y="435.45" font-size="6.6" fill="#111" text-anchor="end" font-weight="normal">NOTCH1.p.I1718T</text>
<rect x="119.00" y="428.80" width="9.70" height="10.00" fill="#c0c0c0"/>
<rect x="128.70" y="428.80" width="130.20" height="10.00" fill="#4b5070"/>
<rect x="258.90" y="428.80" width="42.40" height="10.00" fill="#c0c0c0"/>
<rect x="301.30" y="428.80" width="46.60" height="10.00" fill="#4b5070"/>
<rect x="347.90" y="428.80" width="114.00" height="10.00" fill="#c0c0c0"/>
<rect x="119.00" y="428.80" width="6.00" height="10.00" fill="#6d7190"/>
<rect x="125.00" y="428.80" width="3.70" height="10.00" fill="#8c8fa5"/>
<rect x="129.00" y="429.10" width="129.60" height="9.40" fill="none" stroke="#3a3f62" stroke-width="0.6"/>
<rect x="301.60" y="429.10" width="46.00" height="9.40" fill="none" stroke="#3a3f62" stroke-width="0.6"/>
<text x="115.20" y="445.70" font-size="6.6" fill="#111" text-anchor="end" font-weight="normal">NOTCH1.p.I2456Gfs*24</text>
<rect x="119.00" y="438.80" width="182.30" height="9.60" fill="#4b5070"/>
<rect x="301.30" y="438.80" width="160.60" height="9.60" fill="#c0c0c0"/>
<rect x="119.30" y="439.10" width="181.70" height="9.00" fill="none" stroke="#3a3f62" stroke-width="0.6"/>
<rect x="396.20" y="428.80" width="0.60" height="10.00" fill="#a2a4b4"/>
<rect x="399.10" y="428.80" width="0.60" height="10.00" fill="#a2a4b4"/>
<rect x="407.70" y="428.80" width="0.60" height="10.00" fill="#a2a4b4"/>
<rect x="417.10" y="428.80" width="0.60" height="10.00" fill="#a2a4b4"/>
<rect x="419.30" y="428.80" width="0.60" height="10.00" fill="#a2a4b4"/>
<rect x="424.30" y="428.80" width="0.60" height="10.00" fill="#a2a4b4"/>
<rect x="425.10" y="428.80" width="0.60" height="10.00" fill="#a2a4b4"/>
<rect x="431.50" y="428.80" width="0.60" height="10.00" fill="#a2a4b4"/>
<rect x="433.70" y="428.80" width="0.60" height="10.00" fill="#a2a4b4"/>
<rect x="435.20" y="428.80" width="0.60" height="10.00" fill="#a2a4b4"/>
<rect x="439.50" y="428.80" width="0.60" height="10.00" fill="#a2a4b4"/>
<rect x="443.80" y="428.80" width="0.60" height="10.00" fill="#a2a4b4"/>
<rect x="447.40" y="428.80" width="0.60" height="10.00" fill="#a2a4b4"/>
<rect x="450.30" y="428.80" width="0.60" height="10.00" fill="#a2a4b4"/>
<rect x="453.20" y="428.80" width="0.60" height="10.00" fill="#a2a4b4"/>
<rect x="457.50" y="428.80" width="0.60" height="10.00" fill="#a2a4b4"/>
<rect x="395.50" y="438.80" width="0.60" height="9.60" fill="#a2a4b4"/>
<rect x="397.60" y="438.80" width="0.60" height="9.60" fill="#a2a4b4"/>
<rect x="401.20" y="438.80" width="0.60" height="9.60" fill="#a2a4b4"/>
<rect x="403.40" y="438.80" width="0.60" height="9.60" fill="#a2a4b4"/>
<rect x="420.00" y="438.80" width="0.60" height="9.60" fill="#a2a4b4"/>
<rect x="420.70" y="438.80" width="0.60" height="9.60" fill="#a2a4b4"/>
<rect x="430.10" y="438.80" width="0.60" height="9.60" fill="#a2a4b4"/>
<rect x="437.30" y="438.80" width="0.60" height="9.60" fill="#a2a4b4"/>
<rect x="440.20" y="438.80" width="0.60" height="9.60" fill="#a2a4b4"/>
<rect x="443.10" y="438.80" width="0.60" height="9.60" fill="#a2a4b4"/>
<rect x="446.70" y="438.80" width="0.60" height="9.60" fill="#a2a4b4"/>
<rect x="450.30" y="438.80" width="0.60" height="9.60" fill="#a2a4b4"/>
<rect x="453.90" y="438.80" width="0.60" height="9.60" fill="#a2a4b4"/>
<rect x="459.00" y="438.80" width="0.60" height="9.60" fill="#a2a4b4"/>
<rect x="122.60" y="418.30" width="0.80" height="10.50" fill="#575c7f"/>
<rect x="125.60" y="418.30" width="0.80" height="10.50" fill="#575c7f"/>
<rect x="119.00" y="428.00" width="342.90" height="1.00" fill="#fff" fill-opacity="0.5"/>
<rect x="119.00" y="438.00" width="342.90" height="1.00" fill="#fff" fill-opacity="0.5"/>
<rect x="258.45" y="418.30" width="0.90" height="30.10" fill="#f4f4f4"/>
<rect x="300.85" y="418.30" width="0.90" height="30.10" fill="#f4f4f4"/>
<rect x="347.45" y="418.30" width="0.90" height="30.10" fill="#f4f4f4"/>
<rect x="394.35" y="418.30" width="0.90" height="30.10" fill="#f4f4f4"/>
<text x="31.60" y="465.60" font-size="9.1" fill="#111" text-anchor="start" font-weight="normal" textLength="39.7" lengthAdjust="spacingAndGlyphs">XD83 Rel1</text>
<g transform="rotate(-0.35 119 478)">
<rect x="119.00" y="470.20" width="78.00" height="4.00" fill="#c8172f"/>
<rect x="197.00" y="470.20" width="81.30" height="4.00" fill="#4a7cc0"/>
<rect x="278.30" y="470.20" width="27.50" height="4.00" fill="#c8172f"/>
<rect x="305.80" y="470.20" width="21.90" height="4.00" fill="#4a7cc0"/>
<rect x="327.70" y="470.20" width="2.80" height="4.00" fill="#c8172f"/>
<rect x="330.50" y="470.20" width="4.80" height="4.00" fill="#4a7cc0"/>
<rect x="335.30" y="470.20" width="12.00" height="4.00" fill="#c8172f"/>
<rect x="347.30" y="470.20" width="9.90" height="4.00" fill="#4a7cc0"/>
<rect x="357.20" y="470.20" width="1.00" height="4.00" fill="#c8172f"/>
<rect x="358.20" y="470.20" width="1.30" height="4.00" fill="#4a7cc0"/>
<rect x="359.50" y="470.20" width="7.50" height="4.00" fill="#c8172f"/>
<rect x="367.00" y="470.20" width="4.50" height="4.00" fill="#4a7cc0"/>
<rect x="371.50" y="470.20" width="5.10" height="4.00" fill="#c8172f"/>
<rect x="376.60" y="470.20" width="5.40" height="4.00" fill="#4a7cc0"/>
<rect x="382.00" y="470.20" width="38.50" height="4.00" fill="#c8172f"/>
<rect x="420.50" y="470.20" width="41.40" height="4.00" fill="#4a7cc0"/>
<rect x="119.00" y="478.20" width="159.40" height="3.90" fill="#7dbb5e"/>
<rect x="279.00" y="478.20" width="48.60" height="3.90" fill="#b9d87a"/>
<rect x="328.10" y="478.20" width="6.50" height="3.90" fill="#d7e69a"/>
<rect x="335.20" y="478.20" width="22.10" height="3.90" fill="#f8f4c4"/>
<rect x="357.80" y="478.20" width="13.60" height="3.90" fill="#f6df9a"/>
<rect x="371.90" y="478.20" width="9.10" height="3.90" fill="#f2c07d"/>
<rect x="381.40" y="478.20" width="1.80" height="3.90" fill="#e58a55"/>
<rect x="383.70" y="478.20" width="78.20" height="3.90" fill="#c3262e"/>
<text x="193.60" y="481.20" font-size="4.3" fill="#000" text-anchor="middle" font-weight="bold" stroke="#000" stroke-width="0.15">C1</text>
<text x="303.50" y="481.20" font-size="4.3" fill="#000" text-anchor="middle" font-weight="bold" stroke="#000" stroke-width="0.15">C2</text>
<text x="331.30" y="481.20" font-size="4.3" fill="#000" text-anchor="middle" font-weight="bold" stroke="#000" stroke-width="0.15">C3</text>
<text x="345.00" y="481.20" font-size="4.3" fill="#000" text-anchor="middle" font-weight="bold" stroke="#000" stroke-width="0.15">C4</text>
<text x="364.60" y="481.20" font-size="4.3" fill="#000" text-anchor="middle" font-weight="bold" stroke="#000" stroke-width="0.15">C5</text>
<text x="376.60" y="481.20" font-size="4.3" fill="#000" text-anchor="middle" font-weight="bold" stroke="#000" stroke-width="0.15">C6</text>
<text x="423.40" y="481.20" font-size="4.3" fill="#fff" text-anchor="middle" font-weight="bold" stroke="#fff" stroke-width="0.15">WT</text>
<text x="466.30" y="474.00" font-size="6.4" fill="#222" text-anchor="start" font-weight="normal" textLength="21.6" lengthAdjust="spacingAndGlyphs">Sample</text>
<text x="466.30" y="481.90" font-size="6.4" fill="#222" text-anchor="start" font-weight="normal" textLength="20.4" lengthAdjust="spacingAndGlyphs">Cluster</text>
<text x="115.20" y="493.10" font-size="6.6" fill="#111" text-anchor="end" font-weight="normal">NOTCH1.p.V1578del</text>
<rect x="119.00" y="486.10" width="159.70" height="11.00" fill="#4b5070"/>
<rect x="278.70" y="486.10" width="183.20" height="11.00" fill="#c0c0c0"/>
<rect x="119.30" y="486.40" width="159.10" height="10.40" fill="none" stroke="#3a3f62" stroke-width="0.6"/>
<text x="115.20" y="504.15" font-size="6.6" fill="#111" text-anchor="end" font-weight="normal">FBXW7.p.R465C</text>
<rect x="119.00" y="497.10" width="159.70" height="11.00" fill="#c0c0c0"/>
<rect x="278.70" y="497.10" width="56.20" height="11.00" fill="#4b5070"/>
<rect x="334.90" y="497.10" width="127.00" height="11.00" fill="#c0c0c0"/>
<rect x="279.00" y="497.40" width="55.60" height="10.40" fill="none" stroke="#3a3f62" stroke-width="0.6"/>
<text x="115.20" y="515.05" font-size="6.6" fill="#111" text-anchor="end" font-weight="normal">JAK3.chr19:17955033:A/T</text>
<rect x="119.00" y="508.10" width="159.70" height="10.90" fill="#c0c0c0"/>
<rect x="278.70" y="508.10" width="56.20" height="10.90" fill="#4b5070"/>
<rect x="334.90" y="508.10" width="127.00" height="10.90" fill="#c0c0c0"/>
<rect x="279.00" y="508.40" width="55.60" height="10.30" fill="none" stroke="#3a3f62" stroke-width="0.6"/>
<text x="115.20" y="525.95" font-size="6.6" fill="#111" text-anchor="end" font-weight="normal">NOTCH1.p.L1678P</text>
<rect x="119.00" y="519.00" width="159.70" height="11.00" fill="#c0c0c0"/>
<rect x="278.70" y="519.00" width="49.20" height="11.00" fill="#4b5070"/>
<rect x="327.90" y="519.00" width="7.00" height="11.00" fill="#c0c0c0"/>
<rect x="334.90" y="519.00" width="36.70" height="11.00" fill="#4b5070"/>
<rect x="371.60" y="519.00" width="90.30" height="11.00" fill="#c0c0c0"/>
<rect x="279.00" y="519.30" width="48.60" height="10.40" fill="none" stroke="#3a3f62" stroke-width="0.6"/>
<rect x="335.20" y="519.30" width="36.10" height="10.40" fill="none" stroke="#3a3f62" stroke-width="0.6"/>
<text x="115.20" y="536.70" font-size="6.6" fill="#111" text-anchor="end" font-weight="normal">TP53.p.S110F</text>
<rect x="119.00" y="530.00" width="215.90" height="10.70" fill="#c0c0c0"/>
<rect x="334.90" y="530.00" width="22.60" height="10.70" fill="#4b5070"/>
<rect x="357.50" y="530.00" width="14.10" height="10.70" fill="#c0c0c0"/>
<rect x="371.60" y="530.00" width="9.60" height="10.70" fill="#4b5070"/>
<rect x="381.20" y="530.00" width="80.70" height="10.70" fill="#c0c0c0"/>
<rect x="335.20" y="530.30" width="22.00" height="10.10" fill="none" stroke="#3a3f62" stroke-width="0.6"/>
<rect x="371.90" y="530.30" width="9.00" height="10.10" fill="none" stroke="#3a3f62" stroke-width="0.6"/>
<text x="115.20" y="547.50" font-size="6.6" fill="#111" text-anchor="end" font-weight="normal">TP53.p.A35T</text>
<rect x="119.00" y="540.70" width="263.30" height="9.40" fill="#c0c0c0"/>
<rect x="382.30" y="540.70" width="1.20" height="9.40" fill="#4b5070"/>
<rect x="383.50" y="540.70" width="78.40" height="9.40" fill="#c0c0c0"/>
<rect x="160.22" y="497.10" width="0.55" height="11.00" fill="#a2a4b4"/>
<rect x="166.42" y="497.10" width="0.55" height="11.00" fill="#a2a4b4"/>
<rect x="194.12" y="497.10" width="0.55" height="11.00" fill="#a2a4b4"/>
<rect x="203.32" y="497.10" width="0.55" height="11.00" fill="#a2a4b4"/>
<rect x="215.62" y="497.10" width="0.55" height="11.00" fill="#a2a4b4"/>
<rect x="218.72" y="497.10" width="0.55" height="11.00" fill="#a2a4b4"/>
<rect x="234.12" y="497.10" width="0.55" height="11.00" fill="#a2a4b4"/>
<rect x="271.03" y="497.10" width="0.55" height="11.00" fill="#a2a4b4"/>
<rect x="147.92" y="508.10" width="0.55" height="10.90" fill="#a2a4b4"/>
<rect x="160.22" y="508.10" width="0.55" height="10.90" fill="#a2a4b4"/>
<rect x="195.62" y="508.10" width="0.55" height="10.90" fill="#a2a4b4"/>
<rect x="203.32" y="508.10" width="0.55" height="10.90" fill="#a2a4b4"/>
<rect x="217.22" y="508.10" width="0.55" height="10.90" fill="#a2a4b4"/>
<rect x="235.62" y="508.10" width="0.55" height="10.90" fill="#a2a4b4"/>
<rect x="272.53" y="508.10" width="0.55" height="10.90" fill="#a2a4b4"/>
<rect x="148.92" y="519.00" width="0.55" height="11.00" fill="#a2a4b4"/>
<rect x="151.92" y="519.00" width="0.55" height="11.00" fill="#a2a4b4"/>
<rect x="160.22" y="519.00" width="0.55" height="11.00" fill="#a2a4b4"/>
<rect x="194.12" y="519.00" width="0.55" height="11.00" fill="#a2a4b4"/>
<rect x="203.32" y="519.00" width="0.55" height="11.00" fill="#a2a4b4"/>
<rect x="218.72" y="519.00" width="0.55" height="11.00" fill="#a2a4b4"/>
<rect x="235.03" y="519.00" width="0.55" height="11.00" fill="#a2a4b4"/>
<rect x="254.12" y="519.00" width="0.55" height="11.00" fill="#a2a4b4"/>
<rect x="137.22" y="530.00" width="0.55" height="10.70" fill="#a2a4b4"/>
<rect x="149.53" y="530.00" width="0.55" height="10.70" fill="#a2a4b4"/>
<rect x="180.22" y="530.00" width="0.55" height="10.70" fill="#a2a4b4"/>
<rect x="198.72" y="530.00" width="0.55" height="10.70" fill="#a2a4b4"/>
<rect x="217.22" y="530.00" width="0.55" height="10.70" fill="#a2a4b4"/>
<rect x="221.72" y="530.00" width="0.55" height="10.70" fill="#a2a4b4"/>
<rect x="224.92" y="530.00" width="0.55" height="10.70" fill="#a2a4b4"/>
<rect x="244.92" y="530.00" width="0.55" height="10.70" fill="#a2a4b4"/>
<rect x="254.12" y="530.00" width="0.55" height="10.70" fill="#a2a4b4"/>
<rect x="267.93" y="530.00" width="0.55" height="10.70" fill="#a2a4b4"/>
<rect x="336.03" y="497.10" width="0.55" height="11.00" fill="#a2a4b4"/>
<rect x="357.62" y="497.10" width="0.55" height="11.00" fill="#a2a4b4"/>
<rect x="360.23" y="497.10" width="0.55" height="11.00" fill="#a2a4b4"/>
<rect x="362.73" y="497.10" width="0.55" height="11.00" fill="#a2a4b4"/>
<rect x="365.23" y="497.10" width="0.55" height="11.00" fill="#a2a4b4"/>
<rect x="367.73" y="497.10" width="0.55" height="11.00" fill="#a2a4b4"/>
<rect x="369.03" y="497.10" width="0.55" height="11.00" fill="#a2a4b4"/>
<rect x="374.12" y="497.10" width="0.55" height="11.00" fill="#a2a4b4"/>
<rect x="376.73" y="497.10" width="0.55" height="11.00" fill="#a2a4b4"/>
<rect x="377.93" y="497.10" width="0.55" height="11.00" fill="#a2a4b4"/>
<rect x="389.33" y="497.10" width="0.55" height="11.00" fill="#a2a4b4"/>
<rect x="391.93" y="497.10" width="0.55" height="11.00" fill="#a2a4b4"/>
<rect x="395.73" y="497.10" width="0.55" height="11.00" fill="#a2a4b4"/>
<rect x="410.93" y="497.10" width="0.55" height="11.00" fill="#a2a4b4"/>
<rect x="412.23" y="497.10" width="0.55" height="11.00" fill="#a2a4b4"/>
<rect x="426.12" y="497.10" width="0.55" height="11.00" fill="#a2a4b4"/>
<rect x="432.53" y="497.10" width="0.55" height="11.00" fill="#a2a4b4"/>
<rect x="443.93" y="497.10" width="0.55" height="11.00" fill="#a2a4b4"/>
<rect x="446.53" y="497.10" width="0.55" height="11.00" fill="#a2a4b4"/>
<rect x="449.03" y="497.10" width="0.55" height="11.00" fill="#a2a4b4"/>
<rect x="457.93" y="497.10" width="0.55" height="11.00" fill="#a2a4b4"/>
<rect x="358.93" y="508.10" width="0.55" height="10.90" fill="#a2a4b4"/>
<rect x="361.43" y="508.10" width="0.55" height="10.90" fill="#a2a4b4"/>
<rect x="364.03" y="508.10" width="0.55" height="10.90" fill="#a2a4b4"/>
<rect x="366.53" y="508.10" width="0.55" height="10.90" fill="#a2a4b4"/>
<rect x="369.03" y="508.10" width="0.55" height="10.90" fill="#a2a4b4"/>
<rect x="414.73" y="508.10" width="0.55" height="10.90" fill="#a2a4b4"/>
<rect x="442.73" y="508.10" width="0.55" height="10.90" fill="#a2a4b4"/>
<rect x="119.00" y="496.00" width="342.90" height="1.00" fill="#fff" fill-opacity="0.5"/>
<rect x="119.00" y="507.00" width="342.90" height="1.00" fill="#fff" fill-opacity="0.5"/>
<rect x="119.00" y="518.00" width="342.90" height="1.00" fill="#fff" fill-opacity="0.5"/>
<rect x="119.00" y="529.00" width="342.90" height="1.00" fill="#fff" fill-opacity="0.5"/>
<rect x="119.00" y="539.00" width="342.90" height="1.00" fill="#fff" fill-opacity="0.5"/>
<rect x="278.25" y="486.10" width="0.90" height="64.00" fill="#f4f4f4"/>
<rect x="327.45" y="486.10" width="0.90" height="64.00" fill="#f4f4f4"/>
<rect x="334.45" y="486.10" width="0.90" height="64.00" fill="#f4f4f4"/>
<rect x="357.05" y="486.10" width="0.90" height="64.00" fill="#f4f4f4"/>
<rect x="371.15" y="486.10" width="0.90" height="64.00" fill="#f4f4f4"/>
<rect x="380.75" y="486.10" width="0.90" height="64.00" fill="#f4f4f4"/>
<rect x="383.05" y="486.10" width="0.90" height="64.00" fill="#f4f4f4"/>
</g>
<text x="385.70" y="464.50" font-size="4.3" fill="#000" text-anchor="middle" font-weight="bold">C7</text>
<line x1="386.20" y1="466.50" x2="383.00" y2="474.80" stroke="#000" stroke-width="0.7"/>
<path d="M382.3,476.8 L382.0,473.7 L384.0,474.4 Z" fill="#000"/>
</svg>
<div class="frame"></div>
</body></html>
